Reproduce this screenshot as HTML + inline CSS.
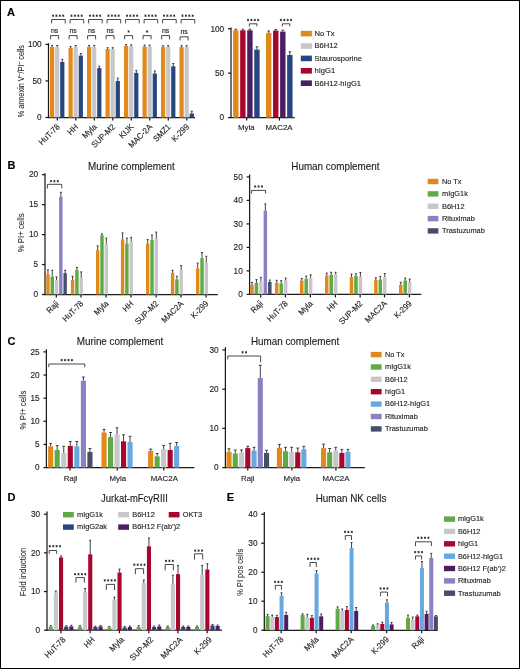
<!DOCTYPE html>
<html><head><meta charset="utf-8"><title>Figure</title>
<style>
html,body{margin:0;padding:0;background:#fff;}
body{width:520px;height:669px;overflow:hidden;}
svg{display:block;font-family:"Liberation Sans", sans-serif;will-change:transform;}

</style></head>
<body>
<svg width="520" height="669" viewBox="0 0 520 669" font-family='"Liberation Sans", sans-serif'>
<g>
<rect x="0" y="0" width="520" height="669" fill="#fff"/>
<text font-size="11" text-anchor="start" font-weight="bold" transform="translate(7 16.4)" fill="#000" stroke="#000" stroke-width="0.14">A</text>
<line x1="48.5" y1="43.2" x2="48.5" y2="118" stroke="#1a1a1a" stroke-width="1.25"/>
<line x1="45.5" y1="44.4" x2="48.5" y2="44.4" stroke="#1a1a1a" stroke-width="1.25"/>
<text font-size="9.0" text-anchor="end" transform="translate(41.7 47.15) scale(0.92 1)" fill="#1e1e1e" stroke="#1e1e1e" stroke-width="0.14">100</text>
<line x1="45.5" y1="80.95" x2="48.5" y2="80.95" stroke="#1a1a1a" stroke-width="1.25"/>
<text font-size="9.0" text-anchor="end" transform="translate(41.7 83.7) scale(0.92 1)" fill="#1e1e1e" stroke="#1e1e1e" stroke-width="0.14">50</text>
<line x1="45.5" y1="117.5" x2="48.5" y2="117.5" stroke="#1a1a1a" stroke-width="1.25"/>
<text font-size="9.0" text-anchor="end" transform="translate(41.7 120.25) scale(0.92 1)" fill="#1e1e1e" stroke="#1e1e1e" stroke-width="0.14">0</text>
<line x1="48" y1="117.5" x2="195" y2="117.5" stroke="#1a1a1a" stroke-width="1.25"/>
<rect x="50" y="46.9" width="4.2" height="70.6" fill="#E2891B"/>
<line x1="52.1" y1="46.9" x2="52.1" y2="45.5" stroke="#2b2b2b" stroke-width="0.9"/>
<line x1="51.1" y1="45.5" x2="53.1" y2="45.5" stroke="#2b2b2b" stroke-width="0.9"/>
<rect x="55.1" y="46.9" width="4.2" height="70.6" fill="#C7C6CB"/>
<line x1="57.2" y1="46.9" x2="57.2" y2="45.5" stroke="#2b2b2b" stroke-width="0.9"/>
<line x1="56.2" y1="45.5" x2="58.2" y2="45.5" stroke="#2b2b2b" stroke-width="0.9"/>
<rect x="60.2" y="61.9" width="4.2" height="55.6" fill="#27467F"/>
<line x1="62.3" y1="61.9" x2="62.3" y2="59.4" stroke="#2b2b2b" stroke-width="0.9"/>
<line x1="61.3" y1="59.4" x2="63.3" y2="59.4" stroke="#2b2b2b" stroke-width="0.9"/>
<line x1="57.3" y1="117.5" x2="57.3" y2="120.5" stroke="#1a1a1a" stroke-width="1.25"/>
<text font-size="8.4" text-anchor="end" transform="translate(60.2 127.4) rotate(-45) scale(0.93 1)" fill="#1e1e1e" stroke="#1e1e1e" stroke-width="0.14">HuT-78</text>
<polyline points="51.6,23.4 51.6,19.5 65.2,19.5 65.2,23.4" fill="none" stroke="#333" stroke-width="0.9"/>
<path d="M53 14.55L53 16.85M52 15.12L54 16.27M54 15.12L52 16.27M56.4 14.55L56.4 16.85M55.4 15.12L57.4 16.27M57.4 15.12L55.4 16.27M59.8 14.55L59.8 16.85M58.8 15.12L60.8 16.27M60.8 15.12L58.8 16.27M63.2 14.55L63.2 16.85M62.2 15.12L64.2 16.27M64.2 15.12L62.2 16.27" stroke="#222" stroke-width="0.8" fill="none"/>
<polyline points="50.6,39.3 50.6,35.6 58.6,35.6 58.6,39.3" fill="none" stroke="#333" stroke-width="0.9"/>
<text font-size="7.4" text-anchor="middle" transform="translate(54.6 33.2) scale(0.95 1)" fill="#1e1e1e" stroke="#1e1e1e" stroke-width="0.14">ns</text>
<rect x="68.5" y="48" width="4.2" height="69.5" fill="#E2891B"/>
<line x1="70.6" y1="48" x2="70.6" y2="46.6" stroke="#2b2b2b" stroke-width="0.9"/>
<line x1="69.6" y1="46.6" x2="71.6" y2="46.6" stroke="#2b2b2b" stroke-width="0.9"/>
<rect x="73.6" y="46.9" width="4.2" height="70.6" fill="#C7C6CB"/>
<line x1="75.7" y1="46.9" x2="75.7" y2="45.5" stroke="#2b2b2b" stroke-width="0.9"/>
<line x1="74.7" y1="45.5" x2="76.7" y2="45.5" stroke="#2b2b2b" stroke-width="0.9"/>
<rect x="78.7" y="55.6" width="4.2" height="61.9" fill="#27467F"/>
<line x1="80.8" y1="55.6" x2="80.8" y2="53.5" stroke="#2b2b2b" stroke-width="0.9"/>
<line x1="79.8" y1="53.5" x2="81.8" y2="53.5" stroke="#2b2b2b" stroke-width="0.9"/>
<line x1="75.8" y1="117.5" x2="75.8" y2="120.5" stroke="#1a1a1a" stroke-width="1.25"/>
<text font-size="8.4" text-anchor="end" transform="translate(78.7 127.4) rotate(-45) scale(0.93 1)" fill="#1e1e1e" stroke="#1e1e1e" stroke-width="0.14">HH</text>
<polyline points="70.1,23.4 70.1,19.5 83.7,19.5 83.7,23.4" fill="none" stroke="#333" stroke-width="0.9"/>
<path d="M71.5 14.55L71.5 16.85M70.5 15.12L72.5 16.27M72.5 15.12L70.5 16.27M74.9 14.55L74.9 16.85M73.9 15.12L75.9 16.27M75.9 15.12L73.9 16.27M78.3 14.55L78.3 16.85M77.3 15.12L79.3 16.27M79.3 15.12L77.3 16.27M81.7 14.55L81.7 16.85M80.7 15.12L82.7 16.27M82.7 15.12L80.7 16.27" stroke="#222" stroke-width="0.8" fill="none"/>
<polyline points="69.1,39.3 69.1,35.6 77.1,35.6 77.1,39.3" fill="none" stroke="#333" stroke-width="0.9"/>
<text font-size="7.4" text-anchor="middle" transform="translate(73.1 33.2) scale(0.95 1)" fill="#1e1e1e" stroke="#1e1e1e" stroke-width="0.14">ns</text>
<rect x="87" y="46.9" width="4.2" height="70.6" fill="#E2891B"/>
<line x1="89.1" y1="46.9" x2="89.1" y2="45.5" stroke="#2b2b2b" stroke-width="0.9"/>
<line x1="88.1" y1="45.5" x2="90.1" y2="45.5" stroke="#2b2b2b" stroke-width="0.9"/>
<rect x="92.1" y="46.9" width="4.2" height="70.6" fill="#C7C6CB"/>
<line x1="94.2" y1="46.9" x2="94.2" y2="45.5" stroke="#2b2b2b" stroke-width="0.9"/>
<line x1="93.2" y1="45.5" x2="95.2" y2="45.5" stroke="#2b2b2b" stroke-width="0.9"/>
<rect x="97.2" y="68.1" width="4.2" height="49.4" fill="#27467F"/>
<line x1="99.3" y1="68.1" x2="99.3" y2="66.2" stroke="#2b2b2b" stroke-width="0.9"/>
<line x1="98.3" y1="66.2" x2="100.3" y2="66.2" stroke="#2b2b2b" stroke-width="0.9"/>
<line x1="94.3" y1="117.5" x2="94.3" y2="120.5" stroke="#1a1a1a" stroke-width="1.25"/>
<text font-size="8.4" text-anchor="end" transform="translate(97.2 127.4) rotate(-45) scale(0.93 1)" fill="#1e1e1e" stroke="#1e1e1e" stroke-width="0.14">Myla</text>
<polyline points="88.6,23.4 88.6,19.5 102.2,19.5 102.2,23.4" fill="none" stroke="#333" stroke-width="0.9"/>
<path d="M90 14.55L90 16.85M89 15.12L91 16.27M91 15.12L89 16.27M93.4 14.55L93.4 16.85M92.4 15.12L94.4 16.27M94.4 15.12L92.4 16.27M96.8 14.55L96.8 16.85M95.8 15.12L97.8 16.27M97.8 15.12L95.8 16.27M100.2 14.55L100.2 16.85M99.2 15.12L101.2 16.27M101.2 15.12L99.2 16.27" stroke="#222" stroke-width="0.8" fill="none"/>
<polyline points="87.6,39.3 87.6,35.6 95.6,35.6 95.6,39.3" fill="none" stroke="#333" stroke-width="0.9"/>
<text font-size="7.4" text-anchor="middle" transform="translate(91.6 33.2) scale(0.95 1)" fill="#1e1e1e" stroke="#1e1e1e" stroke-width="0.14">ns</text>
<rect x="105.5" y="49.1" width="4.2" height="68.4" fill="#E2891B"/>
<line x1="107.6" y1="49.1" x2="107.6" y2="47.7" stroke="#2b2b2b" stroke-width="0.9"/>
<line x1="106.6" y1="47.7" x2="108.6" y2="47.7" stroke="#2b2b2b" stroke-width="0.9"/>
<rect x="110.6" y="49.1" width="4.2" height="68.4" fill="#C7C6CB"/>
<line x1="112.7" y1="49.1" x2="112.7" y2="47.7" stroke="#2b2b2b" stroke-width="0.9"/>
<line x1="111.7" y1="47.7" x2="113.7" y2="47.7" stroke="#2b2b2b" stroke-width="0.9"/>
<rect x="115.7" y="81" width="4.2" height="36.5" fill="#27467F"/>
<line x1="117.8" y1="81" x2="117.8" y2="78.1" stroke="#2b2b2b" stroke-width="0.9"/>
<line x1="116.8" y1="78.1" x2="118.8" y2="78.1" stroke="#2b2b2b" stroke-width="0.9"/>
<line x1="112.8" y1="117.5" x2="112.8" y2="120.5" stroke="#1a1a1a" stroke-width="1.25"/>
<text font-size="8.4" text-anchor="end" transform="translate(115.7 127.4) rotate(-45) scale(0.93 1)" fill="#1e1e1e" stroke="#1e1e1e" stroke-width="0.14">SUP-M2</text>
<polyline points="107.1,23.4 107.1,19.5 120.7,19.5 120.7,23.4" fill="none" stroke="#333" stroke-width="0.9"/>
<path d="M108.5 14.55L108.5 16.85M107.5 15.12L109.5 16.27M109.5 15.12L107.5 16.27M111.9 14.55L111.9 16.85M110.9 15.12L112.9 16.27M112.9 15.12L110.9 16.27M115.3 14.55L115.3 16.85M114.3 15.12L116.3 16.27M116.3 15.12L114.3 16.27M118.7 14.55L118.7 16.85M117.7 15.12L119.7 16.27M119.7 15.12L117.7 16.27" stroke="#222" stroke-width="0.8" fill="none"/>
<polyline points="106.1,39.3 106.1,35.6 114.1,35.6 114.1,39.3" fill="none" stroke="#333" stroke-width="0.9"/>
<text font-size="7.4" text-anchor="middle" transform="translate(110.1 33.2) scale(0.95 1)" fill="#1e1e1e" stroke="#1e1e1e" stroke-width="0.14">ns</text>
<rect x="124" y="46" width="4.2" height="71.5" fill="#E2891B"/>
<line x1="126.1" y1="46" x2="126.1" y2="44.6" stroke="#2b2b2b" stroke-width="0.9"/>
<line x1="125.1" y1="44.6" x2="127.1" y2="44.6" stroke="#2b2b2b" stroke-width="0.9"/>
<rect x="129.1" y="46.3" width="4.2" height="71.2" fill="#C7C6CB"/>
<line x1="131.2" y1="46.3" x2="131.2" y2="44.9" stroke="#2b2b2b" stroke-width="0.9"/>
<line x1="130.2" y1="44.9" x2="132.2" y2="44.9" stroke="#2b2b2b" stroke-width="0.9"/>
<rect x="134.2" y="72.9" width="4.2" height="44.6" fill="#27467F"/>
<line x1="136.3" y1="72.9" x2="136.3" y2="70.4" stroke="#2b2b2b" stroke-width="0.9"/>
<line x1="135.3" y1="70.4" x2="137.3" y2="70.4" stroke="#2b2b2b" stroke-width="0.9"/>
<line x1="131.3" y1="117.5" x2="131.3" y2="120.5" stroke="#1a1a1a" stroke-width="1.25"/>
<text font-size="8.4" text-anchor="end" transform="translate(134.2 127.4) rotate(-45) scale(0.93 1)" fill="#1e1e1e" stroke="#1e1e1e" stroke-width="0.14">KIJK</text>
<polyline points="125.6,23.4 125.6,19.5 139.2,19.5 139.2,23.4" fill="none" stroke="#333" stroke-width="0.9"/>
<path d="M127 14.55L127 16.85M126 15.12L128 16.27M128 15.12L126 16.27M130.4 14.55L130.4 16.85M129.4 15.12L131.4 16.27M131.4 15.12L129.4 16.27M133.8 14.55L133.8 16.85M132.8 15.12L134.8 16.27M134.8 15.12L132.8 16.27M137.2 14.55L137.2 16.85M136.2 15.12L138.2 16.27M138.2 15.12L136.2 16.27" stroke="#222" stroke-width="0.8" fill="none"/>
<polyline points="124.6,39.3 124.6,35.6 132.6,35.6 132.6,39.3" fill="none" stroke="#333" stroke-width="0.9"/>
<path d="M128.6 30.35L128.6 32.65M127.6 30.93L129.6 32.08M129.6 30.93L127.6 32.08" stroke="#222" stroke-width="0.8" fill="none"/>
<rect x="142.5" y="46.5" width="4.2" height="71" fill="#E2891B"/>
<line x1="144.6" y1="46.5" x2="144.6" y2="45.1" stroke="#2b2b2b" stroke-width="0.9"/>
<line x1="143.6" y1="45.1" x2="145.6" y2="45.1" stroke="#2b2b2b" stroke-width="0.9"/>
<rect x="147.6" y="46.5" width="4.2" height="71" fill="#C7C6CB"/>
<line x1="149.7" y1="46.5" x2="149.7" y2="45.1" stroke="#2b2b2b" stroke-width="0.9"/>
<line x1="148.7" y1="45.1" x2="150.7" y2="45.1" stroke="#2b2b2b" stroke-width="0.9"/>
<rect x="152.7" y="73.5" width="4.2" height="44" fill="#27467F"/>
<line x1="154.8" y1="73.5" x2="154.8" y2="71" stroke="#2b2b2b" stroke-width="0.9"/>
<line x1="153.8" y1="71" x2="155.8" y2="71" stroke="#2b2b2b" stroke-width="0.9"/>
<line x1="149.8" y1="117.5" x2="149.8" y2="120.5" stroke="#1a1a1a" stroke-width="1.25"/>
<text font-size="8.4" text-anchor="end" transform="translate(152.7 127.4) rotate(-45) scale(0.93 1)" fill="#1e1e1e" stroke="#1e1e1e" stroke-width="0.14">MAC-2A</text>
<polyline points="144.1,23.4 144.1,19.5 157.7,19.5 157.7,23.4" fill="none" stroke="#333" stroke-width="0.9"/>
<path d="M145.5 14.55L145.5 16.85M144.5 15.12L146.5 16.27M146.5 15.12L144.5 16.27M148.9 14.55L148.9 16.85M147.9 15.12L149.9 16.27M149.9 15.12L147.9 16.27M152.3 14.55L152.3 16.85M151.3 15.12L153.3 16.27M153.3 15.12L151.3 16.27M155.7 14.55L155.7 16.85M154.7 15.12L156.7 16.27M156.7 15.12L154.7 16.27" stroke="#222" stroke-width="0.8" fill="none"/>
<polyline points="143.1,39.3 143.1,35.6 151.1,35.6 151.1,39.3" fill="none" stroke="#333" stroke-width="0.9"/>
<path d="M147.1 30.35L147.1 32.65M146.1 30.93L148.1 32.08M148.1 30.93L146.1 32.08" stroke="#222" stroke-width="0.8" fill="none"/>
<rect x="161" y="47.1" width="4.2" height="70.4" fill="#E2891B"/>
<line x1="163.1" y1="47.1" x2="163.1" y2="45.7" stroke="#2b2b2b" stroke-width="0.9"/>
<line x1="162.1" y1="45.7" x2="164.1" y2="45.7" stroke="#2b2b2b" stroke-width="0.9"/>
<rect x="166.1" y="47.1" width="4.2" height="70.4" fill="#C7C6CB"/>
<line x1="168.2" y1="47.1" x2="168.2" y2="45.7" stroke="#2b2b2b" stroke-width="0.9"/>
<line x1="167.2" y1="45.7" x2="169.2" y2="45.7" stroke="#2b2b2b" stroke-width="0.9"/>
<rect x="171.2" y="66.3" width="4.2" height="51.2" fill="#27467F"/>
<line x1="173.3" y1="66.3" x2="173.3" y2="63.5" stroke="#2b2b2b" stroke-width="0.9"/>
<line x1="172.3" y1="63.5" x2="174.3" y2="63.5" stroke="#2b2b2b" stroke-width="0.9"/>
<line x1="168.3" y1="117.5" x2="168.3" y2="120.5" stroke="#1a1a1a" stroke-width="1.25"/>
<text font-size="8.4" text-anchor="end" transform="translate(171.2 127.4) rotate(-45) scale(0.93 1)" fill="#1e1e1e" stroke="#1e1e1e" stroke-width="0.14">SMZ1</text>
<polyline points="162.6,23.4 162.6,19.5 176.2,19.5 176.2,23.4" fill="none" stroke="#333" stroke-width="0.9"/>
<path d="M164 14.55L164 16.85M163 15.12L165 16.27M165 15.12L163 16.27M167.4 14.55L167.4 16.85M166.4 15.12L168.4 16.27M168.4 15.12L166.4 16.27M170.8 14.55L170.8 16.85M169.8 15.12L171.8 16.27M171.8 15.12L169.8 16.27M174.2 14.55L174.2 16.85M173.2 15.12L175.2 16.27M175.2 15.12L173.2 16.27" stroke="#222" stroke-width="0.8" fill="none"/>
<polyline points="161.6,39.3 161.6,35.6 169.6,35.6 169.6,39.3" fill="none" stroke="#333" stroke-width="0.9"/>
<text font-size="7.4" text-anchor="middle" transform="translate(165.6 33.2) scale(0.95 1)" fill="#1e1e1e" stroke="#1e1e1e" stroke-width="0.14">ns</text>
<rect x="179.5" y="47.1" width="4.2" height="70.4" fill="#E2891B"/>
<line x1="181.6" y1="47.1" x2="181.6" y2="45.7" stroke="#2b2b2b" stroke-width="0.9"/>
<line x1="180.6" y1="45.7" x2="182.6" y2="45.7" stroke="#2b2b2b" stroke-width="0.9"/>
<rect x="184.6" y="47.1" width="4.2" height="70.4" fill="#C7C6CB"/>
<line x1="186.7" y1="47.1" x2="186.7" y2="45.7" stroke="#2b2b2b" stroke-width="0.9"/>
<line x1="185.7" y1="45.7" x2="187.7" y2="45.7" stroke="#2b2b2b" stroke-width="0.9"/>
<rect x="189.7" y="113.5" width="4.2" height="4" fill="#27467F"/>
<line x1="191.8" y1="113.5" x2="191.8" y2="111.2" stroke="#2b2b2b" stroke-width="0.9"/>
<line x1="190.8" y1="111.2" x2="192.8" y2="111.2" stroke="#2b2b2b" stroke-width="0.9"/>
<line x1="186.8" y1="117.5" x2="186.8" y2="120.5" stroke="#1a1a1a" stroke-width="1.25"/>
<text font-size="8.4" text-anchor="end" transform="translate(189.7 127.4) rotate(-45) scale(0.93 1)" fill="#1e1e1e" stroke="#1e1e1e" stroke-width="0.14">K-299</text>
<polyline points="181.1,23.4 181.1,19.5 194.7,19.5 194.7,23.4" fill="none" stroke="#333" stroke-width="0.9"/>
<path d="M182.5 14.55L182.5 16.85M181.5 15.12L183.5 16.27M183.5 15.12L181.5 16.27M185.9 14.55L185.9 16.85M184.9 15.12L186.9 16.27M186.9 15.12L184.9 16.27M189.3 14.55L189.3 16.85M188.3 15.12L190.3 16.27M190.3 15.12L188.3 16.27M192.7 14.55L192.7 16.85M191.7 15.12L193.7 16.27M193.7 15.12L191.7 16.27" stroke="#222" stroke-width="0.8" fill="none"/>
<polyline points="180.1,40.5 180.1,36.8 188.1,36.8 188.1,40.5" fill="none" stroke="#333" stroke-width="0.9"/>
<text font-size="7.4" text-anchor="middle" transform="translate(184.1 34.4) scale(0.95 1)" fill="#1e1e1e" stroke="#1e1e1e" stroke-width="0.14">ns</text>
<text font-size="9.0" text-anchor="middle" transform="translate(23.8 81.2) rotate(-90) scale(0.81 1)" fill="#1e1e1e" stroke="#1e1e1e" stroke-width="0.06">% annexin V<tspan dy="-3" font-size="6.5">&#8211;</tspan><tspan dy="3">/PI</tspan><tspan dy="-3" font-size="6.5">&#8211;</tspan><tspan dy="3"> cells</tspan></text>
<line x1="231" y1="27.6" x2="231" y2="118.1" stroke="#1a1a1a" stroke-width="1.25"/>
<line x1="228" y1="28.75" x2="231" y2="28.75" stroke="#1a1a1a" stroke-width="1.25"/>
<text font-size="9.0" text-anchor="end" transform="translate(224.2 31.5) scale(0.92 1)" fill="#1e1e1e" stroke="#1e1e1e" stroke-width="0.14">100</text>
<line x1="228" y1="73.17" x2="231" y2="73.17" stroke="#1a1a1a" stroke-width="1.25"/>
<text font-size="9.0" text-anchor="end" transform="translate(224.2 75.92) scale(0.92 1)" fill="#1e1e1e" stroke="#1e1e1e" stroke-width="0.14">50</text>
<line x1="228" y1="117.6" x2="231" y2="117.6" stroke="#1a1a1a" stroke-width="1.25"/>
<text font-size="9.0" text-anchor="end" transform="translate(224.2 120.35) scale(0.92 1)" fill="#1e1e1e" stroke="#1e1e1e" stroke-width="0.14">0</text>
<line x1="230.5" y1="117.6" x2="294.6" y2="117.6" stroke="#1a1a1a" stroke-width="1.25"/>
<rect x="233.1" y="30.3" width="5.4" height="87.3" fill="#E2891B"/>
<line x1="235.8" y1="30.3" x2="235.8" y2="29.2" stroke="#2b2b2b" stroke-width="0.9"/>
<line x1="234.5" y1="29.2" x2="237.1" y2="29.2" stroke="#2b2b2b" stroke-width="0.9"/>
<rect x="240.15" y="30.3" width="5.4" height="87.3" fill="#A8062F"/>
<line x1="242.85" y1="30.3" x2="242.85" y2="29.2" stroke="#2b2b2b" stroke-width="0.9"/>
<line x1="241.55" y1="29.2" x2="244.15" y2="29.2" stroke="#2b2b2b" stroke-width="0.9"/>
<rect x="247.2" y="30.3" width="5.4" height="87.3" fill="#4D1D63"/>
<line x1="249.9" y1="30.3" x2="249.9" y2="29.2" stroke="#2b2b2b" stroke-width="0.9"/>
<line x1="248.6" y1="29.2" x2="251.2" y2="29.2" stroke="#2b2b2b" stroke-width="0.9"/>
<rect x="254.25" y="49.6" width="5.4" height="68" fill="#27467F"/>
<line x1="256.95" y1="49.6" x2="256.95" y2="46.8" stroke="#2b2b2b" stroke-width="0.9"/>
<line x1="255.65" y1="46.8" x2="258.25" y2="46.8" stroke="#2b2b2b" stroke-width="0.9"/>
<line x1="246.7" y1="117.6" x2="246.7" y2="120.6" stroke="#1a1a1a" stroke-width="1.25"/>
<text font-size="8.1" text-anchor="middle" transform="translate(246.3 130.4) scale(0.97 1)" fill="#1e1e1e" stroke="#1e1e1e" stroke-width="0.14">Myla</text>
<polyline points="249.4,26.4 249.4,23.8 256.9,23.8 256.9,26.4" fill="none" stroke="#333" stroke-width="0.9"/>
<path d="M248 18.85L248 21.15M247 19.43L249 20.57M249 19.43L247 20.57M251.4 18.85L251.4 21.15M250.4 19.43L252.4 20.57M252.4 19.43L250.4 20.57M254.8 18.85L254.8 21.15M253.8 19.43L255.8 20.57M255.8 19.43L253.8 20.57M258.2 18.85L258.2 21.15M257.2 19.43L259.2 20.57M259.2 19.43L257.2 20.57" stroke="#222" stroke-width="0.8" fill="none"/>
<rect x="266" y="32.9" width="5.4" height="84.7" fill="#E2891B"/>
<line x1="268.7" y1="32.9" x2="268.7" y2="31" stroke="#2b2b2b" stroke-width="0.9"/>
<line x1="267.4" y1="31" x2="270" y2="31" stroke="#2b2b2b" stroke-width="0.9"/>
<rect x="273.05" y="30.6" width="5.4" height="87" fill="#A8062F"/>
<line x1="275.75" y1="30.6" x2="275.75" y2="29.6" stroke="#2b2b2b" stroke-width="0.9"/>
<line x1="274.45" y1="29.6" x2="277.05" y2="29.6" stroke="#2b2b2b" stroke-width="0.9"/>
<rect x="280.1" y="31.6" width="5.4" height="86" fill="#4D1D63"/>
<line x1="282.8" y1="31.6" x2="282.8" y2="30.2" stroke="#2b2b2b" stroke-width="0.9"/>
<line x1="281.5" y1="30.2" x2="284.1" y2="30.2" stroke="#2b2b2b" stroke-width="0.9"/>
<rect x="287.15" y="55" width="5.4" height="62.6" fill="#27467F"/>
<line x1="289.85" y1="55" x2="289.85" y2="51.8" stroke="#2b2b2b" stroke-width="0.9"/>
<line x1="288.55" y1="51.8" x2="291.15" y2="51.8" stroke="#2b2b2b" stroke-width="0.9"/>
<line x1="279.4" y1="117.6" x2="279.4" y2="120.6" stroke="#1a1a1a" stroke-width="1.25"/>
<text font-size="8.1" text-anchor="middle" transform="translate(279 130.4) scale(0.97 1)" fill="#1e1e1e" stroke="#1e1e1e" stroke-width="0.14">MAC2A</text>
<polyline points="282.3,26.4 282.3,23.8 289.8,23.8 289.8,26.4" fill="none" stroke="#333" stroke-width="0.9"/>
<path d="M280.9 18.85L280.9 21.15M279.9 19.43L281.9 20.57M281.9 19.43L279.9 20.57M284.3 18.85L284.3 21.15M283.3 19.43L285.3 20.57M285.3 19.43L283.3 20.57M287.7 18.85L287.7 21.15M286.7 19.43L288.7 20.57M288.7 19.43L286.7 20.57M291.1 18.85L291.1 21.15M290.1 19.43L292.1 20.57M292.1 19.43L290.1 20.57" stroke="#222" stroke-width="0.8" fill="none"/>
<rect x="300.8" y="30.8" width="11.1" height="5.6" fill="#E2891B"/>
<text font-size="8.1" text-anchor="start" transform="translate(314.5 35.9) scale(0.94 1)" fill="#1e1e1e" stroke="#1e1e1e" stroke-width="0.14">No Tx</text>
<rect x="300.8" y="43.2" width="11.1" height="5.6" fill="#C7C6CB"/>
<text font-size="8.1" text-anchor="start" transform="translate(314.5 48.3) scale(0.94 1)" fill="#1e1e1e" stroke="#1e1e1e" stroke-width="0.14">B6H12</text>
<rect x="300.8" y="55.6" width="11.1" height="5.6" fill="#27467F"/>
<text font-size="8.1" text-anchor="start" transform="translate(314.5 60.7) scale(0.94 1)" fill="#1e1e1e" stroke="#1e1e1e" stroke-width="0.14">Staurosporine</text>
<rect x="300.8" y="68" width="11.1" height="5.6" fill="#A8062F"/>
<text font-size="8.1" text-anchor="start" transform="translate(314.5 73.1) scale(0.94 1)" fill="#1e1e1e" stroke="#1e1e1e" stroke-width="0.14">hIgG1</text>
<rect x="300.8" y="80.4" width="11.1" height="5.6" fill="#4D1D63"/>
<text font-size="8.1" text-anchor="start" transform="translate(314.5 85.5) scale(0.94 1)" fill="#1e1e1e" stroke="#1e1e1e" stroke-width="0.14">B6H12-hIgG1</text>
<text font-size="11" text-anchor="start" font-weight="bold" transform="translate(7.6 169)" fill="#000" stroke="#000" stroke-width="0.14">B</text>
<line x1="45" y1="173.3" x2="45" y2="295" stroke="#1a1a1a" stroke-width="1.25"/>
<line x1="42" y1="294.5" x2="45" y2="294.5" stroke="#1a1a1a" stroke-width="1.25"/>
<text font-size="9.0" text-anchor="end" transform="translate(38.2 297.25) scale(0.92 1)" fill="#1e1e1e" stroke="#1e1e1e" stroke-width="0.14">0</text>
<line x1="42" y1="264.55" x2="45" y2="264.55" stroke="#1a1a1a" stroke-width="1.25"/>
<text font-size="9.0" text-anchor="end" transform="translate(38.2 267.3) scale(0.92 1)" fill="#1e1e1e" stroke="#1e1e1e" stroke-width="0.14">5</text>
<line x1="42" y1="234.6" x2="45" y2="234.6" stroke="#1a1a1a" stroke-width="1.25"/>
<text font-size="9.0" text-anchor="end" transform="translate(38.2 237.35) scale(0.92 1)" fill="#1e1e1e" stroke="#1e1e1e" stroke-width="0.14">10</text>
<line x1="42" y1="204.65" x2="45" y2="204.65" stroke="#1a1a1a" stroke-width="1.25"/>
<text font-size="9.0" text-anchor="end" transform="translate(38.2 207.4) scale(0.92 1)" fill="#1e1e1e" stroke="#1e1e1e" stroke-width="0.14">15</text>
<line x1="42" y1="174.7" x2="45" y2="174.7" stroke="#1a1a1a" stroke-width="1.25"/>
<text font-size="9.0" text-anchor="end" transform="translate(38.2 177.45) scale(0.92 1)" fill="#1e1e1e" stroke="#1e1e1e" stroke-width="0.14">20</text>
<line x1="44.5" y1="294.5" x2="217.8" y2="294.5" stroke="#1a1a1a" stroke-width="1.25"/>
<text font-size="10.4" text-anchor="middle" transform="translate(131.4 170.4) scale(0.95 1)" fill="#1e1e1e" stroke="#1e1e1e" stroke-width="0.14">Murine complement</text>
<text font-size="9.0" text-anchor="middle" transform="translate(23.9 232.9) rotate(-90) scale(0.87 1)" fill="#1e1e1e" stroke="#1e1e1e" stroke-width="0.06">% PI+ cells</text>
<rect x="46.25" y="274.1" width="3.4" height="20.4" fill="#E2891B"/>
<line x1="47.95" y1="274.1" x2="47.95" y2="269.8" stroke="#2b2b2b" stroke-width="0.9"/>
<line x1="46.95" y1="269.8" x2="48.95" y2="269.8" stroke="#2b2b2b" stroke-width="0.9"/>
<rect x="50.55" y="276.6" width="3.4" height="17.9" fill="#5EAA44"/>
<line x1="52.25" y1="276.6" x2="52.25" y2="270.3" stroke="#2b2b2b" stroke-width="0.9"/>
<line x1="51.25" y1="270.3" x2="53.25" y2="270.3" stroke="#2b2b2b" stroke-width="0.9"/>
<rect x="54.85" y="280" width="3.4" height="14.5" fill="#C7C6CB"/>
<line x1="56.55" y1="280" x2="56.55" y2="276.9" stroke="#2b2b2b" stroke-width="0.9"/>
<line x1="55.55" y1="276.9" x2="57.55" y2="276.9" stroke="#2b2b2b" stroke-width="0.9"/>
<rect x="59.15" y="196.9" width="3.4" height="97.6" fill="#8B80C1"/>
<line x1="60.85" y1="196.9" x2="60.85" y2="192.3" stroke="#2b2b2b" stroke-width="0.9"/>
<line x1="59.85" y1="192.3" x2="61.85" y2="192.3" stroke="#2b2b2b" stroke-width="0.9"/>
<rect x="63.45" y="273.1" width="3.4" height="21.4" fill="#474F66"/>
<line x1="65.15" y1="273.1" x2="65.15" y2="270.3" stroke="#2b2b2b" stroke-width="0.9"/>
<line x1="64.15" y1="270.3" x2="66.15" y2="270.3" stroke="#2b2b2b" stroke-width="0.9"/>
<line x1="56.35" y1="294.5" x2="56.35" y2="297.5" stroke="#1a1a1a" stroke-width="1.25"/>
<text font-size="8.4" text-anchor="end" transform="translate(59.25 304.2) rotate(-45) scale(0.93 1)" fill="#1e1e1e" stroke="#1e1e1e" stroke-width="0.14">Raji</text>
<rect x="70.9" y="280" width="3.4" height="14.5" fill="#E2891B"/>
<line x1="72.6" y1="280" x2="72.6" y2="276.3" stroke="#2b2b2b" stroke-width="0.9"/>
<line x1="71.6" y1="276.3" x2="73.6" y2="276.3" stroke="#2b2b2b" stroke-width="0.9"/>
<rect x="75.2" y="270" width="3.4" height="24.5" fill="#5EAA44"/>
<line x1="76.9" y1="270" x2="76.9" y2="267.5" stroke="#2b2b2b" stroke-width="0.9"/>
<line x1="75.9" y1="267.5" x2="77.9" y2="267.5" stroke="#2b2b2b" stroke-width="0.9"/>
<rect x="79.5" y="277.8" width="3.4" height="16.7" fill="#C7C6CB"/>
<line x1="81.2" y1="277.8" x2="81.2" y2="271.9" stroke="#2b2b2b" stroke-width="0.9"/>
<line x1="80.2" y1="271.9" x2="82.2" y2="271.9" stroke="#2b2b2b" stroke-width="0.9"/>
<line x1="81" y1="294.5" x2="81" y2="297.5" stroke="#1a1a1a" stroke-width="1.25"/>
<text font-size="8.4" text-anchor="end" transform="translate(83.9 304.2) rotate(-45) scale(0.93 1)" fill="#1e1e1e" stroke="#1e1e1e" stroke-width="0.14">HuT-78</text>
<rect x="96" y="250.2" width="3.4" height="44.3" fill="#E2891B"/>
<line x1="97.7" y1="250.2" x2="97.7" y2="245.8" stroke="#2b2b2b" stroke-width="0.9"/>
<line x1="96.7" y1="245.8" x2="98.7" y2="245.8" stroke="#2b2b2b" stroke-width="0.9"/>
<rect x="100.3" y="235.3" width="3.4" height="59.2" fill="#5EAA44"/>
<line x1="102" y1="235.3" x2="102" y2="233.9" stroke="#2b2b2b" stroke-width="0.9"/>
<line x1="101" y1="233.9" x2="103" y2="233.9" stroke="#2b2b2b" stroke-width="0.9"/>
<rect x="104.6" y="243.8" width="3.4" height="50.7" fill="#C7C6CB"/>
<line x1="106.3" y1="243.8" x2="106.3" y2="238.1" stroke="#2b2b2b" stroke-width="0.9"/>
<line x1="105.3" y1="238.1" x2="107.3" y2="238.1" stroke="#2b2b2b" stroke-width="0.9"/>
<line x1="106.1" y1="294.5" x2="106.1" y2="297.5" stroke="#1a1a1a" stroke-width="1.25"/>
<text font-size="8.4" text-anchor="end" transform="translate(109 304.2) rotate(-45) scale(0.93 1)" fill="#1e1e1e" stroke="#1e1e1e" stroke-width="0.14">Myla</text>
<rect x="120.9" y="239.4" width="3.4" height="55.1" fill="#E2891B"/>
<line x1="122.6" y1="239.4" x2="122.6" y2="232.9" stroke="#2b2b2b" stroke-width="0.9"/>
<line x1="121.6" y1="232.9" x2="123.6" y2="232.9" stroke="#2b2b2b" stroke-width="0.9"/>
<rect x="125.2" y="243.5" width="3.4" height="51" fill="#5EAA44"/>
<line x1="126.9" y1="243.5" x2="126.9" y2="238.1" stroke="#2b2b2b" stroke-width="0.9"/>
<line x1="125.9" y1="238.1" x2="127.9" y2="238.1" stroke="#2b2b2b" stroke-width="0.9"/>
<rect x="129.5" y="241.3" width="3.4" height="53.2" fill="#C7C6CB"/>
<line x1="131.2" y1="241.3" x2="131.2" y2="237.3" stroke="#2b2b2b" stroke-width="0.9"/>
<line x1="130.2" y1="237.3" x2="132.2" y2="237.3" stroke="#2b2b2b" stroke-width="0.9"/>
<line x1="131" y1="294.5" x2="131" y2="297.5" stroke="#1a1a1a" stroke-width="1.25"/>
<text font-size="8.4" text-anchor="end" transform="translate(133.9 304.2) rotate(-45) scale(0.93 1)" fill="#1e1e1e" stroke="#1e1e1e" stroke-width="0.14">HH</text>
<rect x="146" y="243.5" width="3.4" height="51" fill="#E2891B"/>
<line x1="147.7" y1="243.5" x2="147.7" y2="239.6" stroke="#2b2b2b" stroke-width="0.9"/>
<line x1="146.7" y1="239.6" x2="148.7" y2="239.6" stroke="#2b2b2b" stroke-width="0.9"/>
<rect x="150.3" y="240" width="3.4" height="54.5" fill="#5EAA44"/>
<line x1="152" y1="240" x2="152" y2="235" stroke="#2b2b2b" stroke-width="0.9"/>
<line x1="151" y1="235" x2="153" y2="235" stroke="#2b2b2b" stroke-width="0.9"/>
<rect x="154.6" y="238.5" width="3.4" height="56" fill="#C7C6CB"/>
<line x1="156.3" y1="238.5" x2="156.3" y2="232.1" stroke="#2b2b2b" stroke-width="0.9"/>
<line x1="155.3" y1="232.1" x2="157.3" y2="232.1" stroke="#2b2b2b" stroke-width="0.9"/>
<line x1="156.1" y1="294.5" x2="156.1" y2="297.5" stroke="#1a1a1a" stroke-width="1.25"/>
<text font-size="8.4" text-anchor="end" transform="translate(159 304.2) rotate(-45) scale(0.93 1)" fill="#1e1e1e" stroke="#1e1e1e" stroke-width="0.14">SUP-M2</text>
<rect x="170.9" y="272.8" width="3.4" height="21.7" fill="#E2891B"/>
<line x1="172.6" y1="272.8" x2="172.6" y2="270.3" stroke="#2b2b2b" stroke-width="0.9"/>
<line x1="171.6" y1="270.3" x2="173.6" y2="270.3" stroke="#2b2b2b" stroke-width="0.9"/>
<rect x="175.2" y="279.4" width="3.4" height="15.1" fill="#5EAA44"/>
<line x1="176.9" y1="279.4" x2="176.9" y2="276.3" stroke="#2b2b2b" stroke-width="0.9"/>
<line x1="175.9" y1="276.3" x2="177.9" y2="276.3" stroke="#2b2b2b" stroke-width="0.9"/>
<rect x="179.5" y="270" width="3.4" height="24.5" fill="#C7C6CB"/>
<line x1="181.2" y1="270" x2="181.2" y2="265.6" stroke="#2b2b2b" stroke-width="0.9"/>
<line x1="180.2" y1="265.6" x2="182.2" y2="265.6" stroke="#2b2b2b" stroke-width="0.9"/>
<line x1="181" y1="294.5" x2="181" y2="297.5" stroke="#1a1a1a" stroke-width="1.25"/>
<text font-size="8.4" text-anchor="end" transform="translate(183.9 304.2) rotate(-45) scale(0.93 1)" fill="#1e1e1e" stroke="#1e1e1e" stroke-width="0.14">MAC2A</text>
<rect x="196" y="268.4" width="3.4" height="26.1" fill="#E2891B"/>
<line x1="197.7" y1="268.4" x2="197.7" y2="263.1" stroke="#2b2b2b" stroke-width="0.9"/>
<line x1="196.7" y1="263.1" x2="198.7" y2="263.1" stroke="#2b2b2b" stroke-width="0.9"/>
<rect x="200.3" y="258.1" width="3.4" height="36.4" fill="#5EAA44"/>
<line x1="202" y1="258.1" x2="202" y2="252.5" stroke="#2b2b2b" stroke-width="0.9"/>
<line x1="201" y1="252.5" x2="203" y2="252.5" stroke="#2b2b2b" stroke-width="0.9"/>
<rect x="204.6" y="262.5" width="3.4" height="32" fill="#C7C6CB"/>
<line x1="206.3" y1="262.5" x2="206.3" y2="256.3" stroke="#2b2b2b" stroke-width="0.9"/>
<line x1="205.3" y1="256.3" x2="207.3" y2="256.3" stroke="#2b2b2b" stroke-width="0.9"/>
<line x1="206.1" y1="294.5" x2="206.1" y2="297.5" stroke="#1a1a1a" stroke-width="1.25"/>
<text font-size="8.4" text-anchor="end" transform="translate(209 304.2) rotate(-45) scale(0.93 1)" fill="#1e1e1e" stroke="#1e1e1e" stroke-width="0.14">K-299</text>
<polyline points="47.4,188.5 47.4,184.3 61.8,184.3 61.8,188.5" fill="none" stroke="#333" stroke-width="0.9"/>
<path d="M51 180.05L51 182.35M50 180.62L52 181.77M52 180.62L50 181.77M54.4 180.05L54.4 182.35M53.4 180.62L55.4 181.77M55.4 180.62L53.4 181.77M57.8 180.05L57.8 182.35M56.8 180.62L58.8 181.77M58.8 180.62L56.8 181.77" stroke="#222" stroke-width="0.8" fill="none"/>
<line x1="249.6" y1="174.4" x2="249.6" y2="294.9" stroke="#1a1a1a" stroke-width="1.25"/>
<line x1="246.6" y1="294.4" x2="249.6" y2="294.4" stroke="#1a1a1a" stroke-width="1.25"/>
<text font-size="9.0" text-anchor="end" transform="translate(242.8 297.15) scale(0.92 1)" fill="#1e1e1e" stroke="#1e1e1e" stroke-width="0.14">0</text>
<line x1="246.6" y1="270.9" x2="249.6" y2="270.9" stroke="#1a1a1a" stroke-width="1.25"/>
<text font-size="9.0" text-anchor="end" transform="translate(242.8 273.65) scale(0.92 1)" fill="#1e1e1e" stroke="#1e1e1e" stroke-width="0.14">10</text>
<line x1="246.6" y1="247.4" x2="249.6" y2="247.4" stroke="#1a1a1a" stroke-width="1.25"/>
<text font-size="9.0" text-anchor="end" transform="translate(242.8 250.15) scale(0.92 1)" fill="#1e1e1e" stroke="#1e1e1e" stroke-width="0.14">20</text>
<line x1="246.6" y1="223.9" x2="249.6" y2="223.9" stroke="#1a1a1a" stroke-width="1.25"/>
<text font-size="9.0" text-anchor="end" transform="translate(242.8 226.65) scale(0.92 1)" fill="#1e1e1e" stroke="#1e1e1e" stroke-width="0.14">30</text>
<line x1="246.6" y1="200.4" x2="249.6" y2="200.4" stroke="#1a1a1a" stroke-width="1.25"/>
<text font-size="9.0" text-anchor="end" transform="translate(242.8 203.15) scale(0.92 1)" fill="#1e1e1e" stroke="#1e1e1e" stroke-width="0.14">40</text>
<line x1="246.6" y1="176.9" x2="249.6" y2="176.9" stroke="#1a1a1a" stroke-width="1.25"/>
<text font-size="9.0" text-anchor="end" transform="translate(242.8 179.65) scale(0.92 1)" fill="#1e1e1e" stroke="#1e1e1e" stroke-width="0.14">50</text>
<line x1="249.1" y1="294.4" x2="421.2" y2="294.4" stroke="#1a1a1a" stroke-width="1.25"/>
<text font-size="10.4" text-anchor="middle" transform="translate(335.4 170.2) scale(0.95 1)" fill="#1e1e1e" stroke="#1e1e1e" stroke-width="0.14">Human complement</text>
<rect x="250.25" y="285" width="3.5" height="9.4" fill="#E2891B"/>
<line x1="252" y1="285" x2="252" y2="282.5" stroke="#2b2b2b" stroke-width="0.9"/>
<line x1="251" y1="282.5" x2="253" y2="282.5" stroke="#2b2b2b" stroke-width="0.9"/>
<rect x="254.7" y="282.9" width="3.5" height="11.5" fill="#5EAA44"/>
<line x1="256.45" y1="282.9" x2="256.45" y2="279.6" stroke="#2b2b2b" stroke-width="0.9"/>
<line x1="255.45" y1="279.6" x2="257.45" y2="279.6" stroke="#2b2b2b" stroke-width="0.9"/>
<rect x="259.15" y="281.3" width="3.5" height="13.1" fill="#C7C6CB"/>
<line x1="260.9" y1="281.3" x2="260.9" y2="277.3" stroke="#2b2b2b" stroke-width="0.9"/>
<line x1="259.9" y1="277.3" x2="261.9" y2="277.3" stroke="#2b2b2b" stroke-width="0.9"/>
<rect x="263.6" y="210.6" width="3.5" height="83.8" fill="#8B80C1"/>
<line x1="265.35" y1="210.6" x2="265.35" y2="203.8" stroke="#2b2b2b" stroke-width="0.9"/>
<line x1="264.35" y1="203.8" x2="266.35" y2="203.8" stroke="#2b2b2b" stroke-width="0.9"/>
<rect x="268.05" y="281.9" width="3.5" height="12.5" fill="#474F66"/>
<line x1="269.8" y1="281.9" x2="269.8" y2="280" stroke="#2b2b2b" stroke-width="0.9"/>
<line x1="268.8" y1="280" x2="270.8" y2="280" stroke="#2b2b2b" stroke-width="0.9"/>
<line x1="260.65" y1="294.4" x2="260.65" y2="297.4" stroke="#1a1a1a" stroke-width="1.25"/>
<text font-size="8.4" text-anchor="end" transform="translate(263.55 304.1) rotate(-45) scale(0.93 1)" fill="#1e1e1e" stroke="#1e1e1e" stroke-width="0.14">Raji</text>
<rect x="275" y="282.9" width="3.5" height="11.5" fill="#E2891B"/>
<line x1="276.75" y1="282.9" x2="276.75" y2="280.3" stroke="#2b2b2b" stroke-width="0.9"/>
<line x1="275.75" y1="280.3" x2="277.75" y2="280.3" stroke="#2b2b2b" stroke-width="0.9"/>
<rect x="279.45" y="283.5" width="3.5" height="10.9" fill="#5EAA44"/>
<line x1="281.2" y1="283.5" x2="281.2" y2="280.6" stroke="#2b2b2b" stroke-width="0.9"/>
<line x1="280.2" y1="280.6" x2="282.2" y2="280.6" stroke="#2b2b2b" stroke-width="0.9"/>
<rect x="283.9" y="280.4" width="3.5" height="14" fill="#C7C6CB"/>
<line x1="285.65" y1="280.4" x2="285.65" y2="278.1" stroke="#2b2b2b" stroke-width="0.9"/>
<line x1="284.65" y1="278.1" x2="286.65" y2="278.1" stroke="#2b2b2b" stroke-width="0.9"/>
<line x1="285.4" y1="294.4" x2="285.4" y2="297.4" stroke="#1a1a1a" stroke-width="1.25"/>
<text font-size="8.4" text-anchor="end" transform="translate(288.3 304.1) rotate(-45) scale(0.93 1)" fill="#1e1e1e" stroke="#1e1e1e" stroke-width="0.14">HuT-78</text>
<rect x="300" y="280.6" width="3.5" height="13.8" fill="#E2891B"/>
<line x1="301.75" y1="280.6" x2="301.75" y2="278.5" stroke="#2b2b2b" stroke-width="0.9"/>
<line x1="300.75" y1="278.5" x2="302.75" y2="278.5" stroke="#2b2b2b" stroke-width="0.9"/>
<rect x="304.45" y="278.9" width="3.5" height="15.5" fill="#5EAA44"/>
<line x1="306.2" y1="278.9" x2="306.2" y2="276.1" stroke="#2b2b2b" stroke-width="0.9"/>
<line x1="305.2" y1="276.1" x2="307.2" y2="276.1" stroke="#2b2b2b" stroke-width="0.9"/>
<rect x="308.9" y="277.8" width="3.5" height="16.6" fill="#C7C6CB"/>
<line x1="310.65" y1="277.8" x2="310.65" y2="274.8" stroke="#2b2b2b" stroke-width="0.9"/>
<line x1="309.65" y1="274.8" x2="311.65" y2="274.8" stroke="#2b2b2b" stroke-width="0.9"/>
<line x1="310.4" y1="294.4" x2="310.4" y2="297.4" stroke="#1a1a1a" stroke-width="1.25"/>
<text font-size="8.4" text-anchor="end" transform="translate(313.3 304.1) rotate(-45) scale(0.93 1)" fill="#1e1e1e" stroke="#1e1e1e" stroke-width="0.14">Myla</text>
<rect x="325" y="275.4" width="3.5" height="19" fill="#E2891B"/>
<line x1="326.75" y1="275.4" x2="326.75" y2="273.1" stroke="#2b2b2b" stroke-width="0.9"/>
<line x1="325.75" y1="273.1" x2="327.75" y2="273.1" stroke="#2b2b2b" stroke-width="0.9"/>
<rect x="329.45" y="275" width="3.5" height="19.4" fill="#5EAA44"/>
<line x1="331.2" y1="275" x2="331.2" y2="272.3" stroke="#2b2b2b" stroke-width="0.9"/>
<line x1="330.2" y1="272.3" x2="332.2" y2="272.3" stroke="#2b2b2b" stroke-width="0.9"/>
<rect x="333.9" y="274.1" width="3.5" height="20.3" fill="#C7C6CB"/>
<line x1="335.65" y1="274.1" x2="335.65" y2="272.3" stroke="#2b2b2b" stroke-width="0.9"/>
<line x1="334.65" y1="272.3" x2="336.65" y2="272.3" stroke="#2b2b2b" stroke-width="0.9"/>
<line x1="335.4" y1="294.4" x2="335.4" y2="297.4" stroke="#1a1a1a" stroke-width="1.25"/>
<text font-size="8.4" text-anchor="end" transform="translate(338.3 304.1) rotate(-45) scale(0.93 1)" fill="#1e1e1e" stroke="#1e1e1e" stroke-width="0.14">HH</text>
<rect x="349.75" y="276.9" width="3.5" height="17.5" fill="#E2891B"/>
<line x1="351.5" y1="276.9" x2="351.5" y2="274.1" stroke="#2b2b2b" stroke-width="0.9"/>
<line x1="350.5" y1="274.1" x2="352.5" y2="274.1" stroke="#2b2b2b" stroke-width="0.9"/>
<rect x="354.2" y="276" width="3.5" height="18.4" fill="#5EAA44"/>
<line x1="355.95" y1="276" x2="355.95" y2="273.8" stroke="#2b2b2b" stroke-width="0.9"/>
<line x1="354.95" y1="273.8" x2="356.95" y2="273.8" stroke="#2b2b2b" stroke-width="0.9"/>
<rect x="358.65" y="276.6" width="3.5" height="17.8" fill="#C7C6CB"/>
<line x1="360.4" y1="276.6" x2="360.4" y2="272.5" stroke="#2b2b2b" stroke-width="0.9"/>
<line x1="359.4" y1="272.5" x2="361.4" y2="272.5" stroke="#2b2b2b" stroke-width="0.9"/>
<line x1="360.15" y1="294.4" x2="360.15" y2="297.4" stroke="#1a1a1a" stroke-width="1.25"/>
<text font-size="8.4" text-anchor="end" transform="translate(363.05 304.1) rotate(-45) scale(0.93 1)" fill="#1e1e1e" stroke="#1e1e1e" stroke-width="0.14">SUP-M2</text>
<rect x="374.1" y="280" width="3.5" height="14.4" fill="#E2891B"/>
<line x1="375.85" y1="280" x2="375.85" y2="277.8" stroke="#2b2b2b" stroke-width="0.9"/>
<line x1="374.85" y1="277.8" x2="376.85" y2="277.8" stroke="#2b2b2b" stroke-width="0.9"/>
<rect x="378.55" y="279.6" width="3.5" height="14.8" fill="#5EAA44"/>
<line x1="380.3" y1="279.6" x2="380.3" y2="276.3" stroke="#2b2b2b" stroke-width="0.9"/>
<line x1="379.3" y1="276.3" x2="381.3" y2="276.3" stroke="#2b2b2b" stroke-width="0.9"/>
<rect x="383" y="276.9" width="3.5" height="17.5" fill="#C7C6CB"/>
<line x1="384.75" y1="276.9" x2="384.75" y2="273.5" stroke="#2b2b2b" stroke-width="0.9"/>
<line x1="383.75" y1="273.5" x2="385.75" y2="273.5" stroke="#2b2b2b" stroke-width="0.9"/>
<line x1="384.5" y1="294.4" x2="384.5" y2="297.4" stroke="#1a1a1a" stroke-width="1.25"/>
<text font-size="8.4" text-anchor="end" transform="translate(387.4 304.1) rotate(-45) scale(0.93 1)" fill="#1e1e1e" stroke="#1e1e1e" stroke-width="0.14">MAC2A</text>
<rect x="399" y="284.8" width="3.5" height="9.6" fill="#E2891B"/>
<line x1="400.75" y1="284.8" x2="400.75" y2="282.3" stroke="#2b2b2b" stroke-width="0.9"/>
<line x1="399.75" y1="282.3" x2="401.75" y2="282.3" stroke="#2b2b2b" stroke-width="0.9"/>
<rect x="403.45" y="280.6" width="3.5" height="13.8" fill="#5EAA44"/>
<line x1="405.2" y1="280.6" x2="405.2" y2="278.1" stroke="#2b2b2b" stroke-width="0.9"/>
<line x1="404.2" y1="278.1" x2="406.2" y2="278.1" stroke="#2b2b2b" stroke-width="0.9"/>
<rect x="407.9" y="282.5" width="3.5" height="11.9" fill="#C7C6CB"/>
<line x1="409.65" y1="282.5" x2="409.65" y2="279" stroke="#2b2b2b" stroke-width="0.9"/>
<line x1="408.65" y1="279" x2="410.65" y2="279" stroke="#2b2b2b" stroke-width="0.9"/>
<line x1="409.4" y1="294.4" x2="409.4" y2="297.4" stroke="#1a1a1a" stroke-width="1.25"/>
<text font-size="8.4" text-anchor="end" transform="translate(412.3 304.1) rotate(-45) scale(0.93 1)" fill="#1e1e1e" stroke="#1e1e1e" stroke-width="0.14">K-299</text>
<polyline points="251.6,193.5 251.6,190.4 265.6,190.4 265.6,193.5" fill="none" stroke="#333" stroke-width="0.9"/>
<path d="M255.2 185.35L255.2 187.65M254.2 185.93L256.2 187.07M256.2 185.93L254.2 187.07M258.6 185.35L258.6 187.65M257.6 185.93L259.6 187.07M259.6 185.93L257.6 187.07M262 185.35L262 187.65M261 185.93L263 187.07M263 185.93L261 187.07" stroke="#222" stroke-width="0.8" fill="none"/>
<rect x="427.7" y="178.8" width="10.7" height="5.4" fill="#E2891B"/>
<text font-size="7.88" text-anchor="start" transform="translate(442 183.8) scale(0.94 1)" fill="#1e1e1e" stroke="#1e1e1e" stroke-width="0.14">No Tx</text>
<rect x="427.7" y="191.2" width="10.7" height="5.4" fill="#5EAA44"/>
<text font-size="7.88" text-anchor="start" transform="translate(442 196.2) scale(0.94 1)" fill="#1e1e1e" stroke="#1e1e1e" stroke-width="0.14">mIgG1k</text>
<rect x="427.7" y="203.6" width="10.7" height="5.4" fill="#C7C6CB"/>
<text font-size="7.88" text-anchor="start" transform="translate(442 208.6) scale(0.94 1)" fill="#1e1e1e" stroke="#1e1e1e" stroke-width="0.14">B6H12</text>
<rect x="427.7" y="215.9" width="10.7" height="5.4" fill="#8B80C1"/>
<text font-size="7.88" text-anchor="start" transform="translate(442 220.9) scale(0.94 1)" fill="#1e1e1e" stroke="#1e1e1e" stroke-width="0.14">Rituximab</text>
<rect x="427.7" y="228.2" width="10.7" height="5.4" fill="#474F66"/>
<text font-size="7.88" text-anchor="start" transform="translate(442 233.2) scale(0.94 1)" fill="#1e1e1e" stroke="#1e1e1e" stroke-width="0.14">Trastuzumab</text>
<text font-size="11" text-anchor="start" font-weight="bold" transform="translate(7.4 344.6)" fill="#000" stroke="#000" stroke-width="0.14">C</text>
<line x1="46.4" y1="349.2" x2="46.4" y2="468.1" stroke="#1a1a1a" stroke-width="1.25"/>
<line x1="43.4" y1="467.6" x2="46.4" y2="467.6" stroke="#1a1a1a" stroke-width="1.25"/>
<text font-size="9.0" text-anchor="end" transform="translate(39.6 470.35) scale(0.92 1)" fill="#1e1e1e" stroke="#1e1e1e" stroke-width="0.14">0</text>
<line x1="43.4" y1="444.45" x2="46.4" y2="444.45" stroke="#1a1a1a" stroke-width="1.25"/>
<text font-size="9.0" text-anchor="end" transform="translate(39.6 447.2) scale(0.92 1)" fill="#1e1e1e" stroke="#1e1e1e" stroke-width="0.14">5</text>
<line x1="43.4" y1="421.3" x2="46.4" y2="421.3" stroke="#1a1a1a" stroke-width="1.25"/>
<text font-size="9.0" text-anchor="end" transform="translate(39.6 424.05) scale(0.92 1)" fill="#1e1e1e" stroke="#1e1e1e" stroke-width="0.14">10</text>
<line x1="43.4" y1="398.15" x2="46.4" y2="398.15" stroke="#1a1a1a" stroke-width="1.25"/>
<text font-size="9.0" text-anchor="end" transform="translate(39.6 400.9) scale(0.92 1)" fill="#1e1e1e" stroke="#1e1e1e" stroke-width="0.14">15</text>
<line x1="43.4" y1="375" x2="46.4" y2="375" stroke="#1a1a1a" stroke-width="1.25"/>
<text font-size="9.0" text-anchor="end" transform="translate(39.6 377.75) scale(0.92 1)" fill="#1e1e1e" stroke="#1e1e1e" stroke-width="0.14">20</text>
<line x1="43.4" y1="351.85" x2="46.4" y2="351.85" stroke="#1a1a1a" stroke-width="1.25"/>
<text font-size="9.0" text-anchor="end" transform="translate(39.6 354.6) scale(0.92 1)" fill="#1e1e1e" stroke="#1e1e1e" stroke-width="0.14">25</text>
<line x1="45.9" y1="467.6" x2="194.4" y2="467.6" stroke="#1a1a1a" stroke-width="1.25"/>
<text font-size="10.4" text-anchor="middle" transform="translate(120 344.5) scale(0.95 1)" fill="#1e1e1e" stroke="#1e1e1e" stroke-width="0.14">Murine complement</text>
<text font-size="9.0" text-anchor="middle" transform="translate(25.8 410) rotate(-90) scale(0.87 1)" fill="#1e1e1e" stroke="#1e1e1e" stroke-width="0.06">% PI+ cells</text>
<rect x="48.1" y="446.3" width="5.1" height="21.3" fill="#E2891B"/>
<line x1="50.65" y1="446.3" x2="50.65" y2="443.4" stroke="#2b2b2b" stroke-width="0.9"/>
<line x1="49.25" y1="443.4" x2="52.05" y2="443.4" stroke="#2b2b2b" stroke-width="0.9"/>
<rect x="54.65" y="450" width="5.1" height="17.6" fill="#5EAA44"/>
<line x1="57.2" y1="450" x2="57.2" y2="445.6" stroke="#2b2b2b" stroke-width="0.9"/>
<line x1="55.8" y1="445.6" x2="58.6" y2="445.6" stroke="#2b2b2b" stroke-width="0.9"/>
<rect x="61.2" y="452.9" width="5.1" height="14.7" fill="#C7C6CB"/>
<line x1="63.75" y1="452.9" x2="63.75" y2="446.3" stroke="#2b2b2b" stroke-width="0.9"/>
<line x1="62.35" y1="446.3" x2="65.15" y2="446.3" stroke="#2b2b2b" stroke-width="0.9"/>
<rect x="67.75" y="445.9" width="5.1" height="21.7" fill="#A8062F"/>
<line x1="70.3" y1="445.9" x2="70.3" y2="441.5" stroke="#2b2b2b" stroke-width="0.9"/>
<line x1="68.9" y1="441.5" x2="71.7" y2="441.5" stroke="#2b2b2b" stroke-width="0.9"/>
<rect x="74.3" y="446.3" width="5.1" height="21.3" fill="#66A9E1"/>
<line x1="76.85" y1="446.3" x2="76.85" y2="441.5" stroke="#2b2b2b" stroke-width="0.9"/>
<line x1="75.45" y1="441.5" x2="78.25" y2="441.5" stroke="#2b2b2b" stroke-width="0.9"/>
<rect x="80.85" y="380.8" width="5.1" height="86.8" fill="#8B80C1"/>
<line x1="83.4" y1="380.8" x2="83.4" y2="377" stroke="#2b2b2b" stroke-width="0.9"/>
<line x1="82" y1="377" x2="84.8" y2="377" stroke="#2b2b2b" stroke-width="0.9"/>
<rect x="87.4" y="451.9" width="5.1" height="15.7" fill="#474F66"/>
<line x1="89.95" y1="451.9" x2="89.95" y2="448.5" stroke="#2b2b2b" stroke-width="0.9"/>
<line x1="88.55" y1="448.5" x2="91.35" y2="448.5" stroke="#2b2b2b" stroke-width="0.9"/>
<line x1="70" y1="467.6" x2="70" y2="470.6" stroke="#1a1a1a" stroke-width="1.25"/>
<text font-size="8.1" text-anchor="middle" transform="translate(70.6 480.5) scale(0.97 1)" fill="#1e1e1e" stroke="#1e1e1e" stroke-width="0.14">Raji</text>
<rect x="101.5" y="432.5" width="5.1" height="35.1" fill="#E2891B"/>
<line x1="104.05" y1="432.5" x2="104.05" y2="429.4" stroke="#2b2b2b" stroke-width="0.9"/>
<line x1="102.65" y1="429.4" x2="105.45" y2="429.4" stroke="#2b2b2b" stroke-width="0.9"/>
<rect x="108" y="437.1" width="5.1" height="30.5" fill="#5EAA44"/>
<line x1="110.55" y1="437.1" x2="110.55" y2="432.5" stroke="#2b2b2b" stroke-width="0.9"/>
<line x1="109.15" y1="432.5" x2="111.95" y2="432.5" stroke="#2b2b2b" stroke-width="0.9"/>
<rect x="114.5" y="434.4" width="5.1" height="33.2" fill="#C7C6CB"/>
<line x1="117.05" y1="434.4" x2="117.05" y2="427.8" stroke="#2b2b2b" stroke-width="0.9"/>
<line x1="115.65" y1="427.8" x2="118.45" y2="427.8" stroke="#2b2b2b" stroke-width="0.9"/>
<rect x="121" y="441.3" width="5.1" height="26.3" fill="#A8062F"/>
<line x1="123.55" y1="441.3" x2="123.55" y2="434.8" stroke="#2b2b2b" stroke-width="0.9"/>
<line x1="122.15" y1="434.8" x2="124.95" y2="434.8" stroke="#2b2b2b" stroke-width="0.9"/>
<rect x="127.5" y="441.9" width="5.1" height="25.7" fill="#66A9E1"/>
<line x1="130.05" y1="441.9" x2="130.05" y2="436.3" stroke="#2b2b2b" stroke-width="0.9"/>
<line x1="128.65" y1="436.3" x2="131.45" y2="436.3" stroke="#2b2b2b" stroke-width="0.9"/>
<line x1="117.25" y1="467.6" x2="117.25" y2="470.6" stroke="#1a1a1a" stroke-width="1.25"/>
<text font-size="8.1" text-anchor="middle" transform="translate(117.85 480.5) scale(0.97 1)" fill="#1e1e1e" stroke="#1e1e1e" stroke-width="0.14">Myla</text>
<rect x="148.1" y="451" width="5.1" height="16.6" fill="#E2891B"/>
<line x1="150.65" y1="451" x2="150.65" y2="449.1" stroke="#2b2b2b" stroke-width="0.9"/>
<line x1="149.25" y1="449.1" x2="152.05" y2="449.1" stroke="#2b2b2b" stroke-width="0.9"/>
<rect x="154.6" y="456.3" width="5.1" height="11.3" fill="#5EAA44"/>
<line x1="157.15" y1="456.3" x2="157.15" y2="453.5" stroke="#2b2b2b" stroke-width="0.9"/>
<line x1="155.75" y1="453.5" x2="158.55" y2="453.5" stroke="#2b2b2b" stroke-width="0.9"/>
<rect x="161.1" y="449.1" width="5.1" height="18.5" fill="#C7C6CB"/>
<line x1="163.65" y1="449.1" x2="163.65" y2="445.4" stroke="#2b2b2b" stroke-width="0.9"/>
<line x1="162.25" y1="445.4" x2="165.05" y2="445.4" stroke="#2b2b2b" stroke-width="0.9"/>
<rect x="167.6" y="450" width="5.1" height="17.6" fill="#A8062F"/>
<line x1="170.15" y1="450" x2="170.15" y2="443.4" stroke="#2b2b2b" stroke-width="0.9"/>
<line x1="168.75" y1="443.4" x2="171.55" y2="443.4" stroke="#2b2b2b" stroke-width="0.9"/>
<rect x="174.1" y="445.9" width="5.1" height="21.7" fill="#66A9E1"/>
<line x1="176.65" y1="445.9" x2="176.65" y2="442.5" stroke="#2b2b2b" stroke-width="0.9"/>
<line x1="175.25" y1="442.5" x2="178.05" y2="442.5" stroke="#2b2b2b" stroke-width="0.9"/>
<line x1="163.75" y1="467.6" x2="163.75" y2="470.6" stroke="#1a1a1a" stroke-width="1.25"/>
<text font-size="8.1" text-anchor="middle" transform="translate(164.35 480.5) scale(0.97 1)" fill="#1e1e1e" stroke="#1e1e1e" stroke-width="0.14">MAC2A</text>
<polyline points="48.8,367.2 48.8,364 84.8,364 84.8,367.2" fill="none" stroke="#333" stroke-width="0.9"/>
<path d="M61.7 358.95L61.7 361.25M60.7 359.53L62.7 360.68M62.7 359.53L60.7 360.68M65.1 358.95L65.1 361.25M64.1 359.53L66.1 360.68M66.1 359.53L64.1 360.68M68.5 358.95L68.5 361.25M67.5 359.53L69.5 360.68M69.5 359.53L67.5 360.68M71.9 358.95L71.9 361.25M70.9 359.53L72.9 360.68M72.9 359.53L70.9 360.68" stroke="#222" stroke-width="0.8" fill="none"/>
<line x1="225.4" y1="347.2" x2="225.4" y2="468.1" stroke="#1a1a1a" stroke-width="1.25"/>
<line x1="222.4" y1="467.6" x2="225.4" y2="467.6" stroke="#1a1a1a" stroke-width="1.25"/>
<text font-size="9.0" text-anchor="end" transform="translate(218.6 470.35) scale(0.92 1)" fill="#1e1e1e" stroke="#1e1e1e" stroke-width="0.14">0</text>
<line x1="222.4" y1="428.4" x2="225.4" y2="428.4" stroke="#1a1a1a" stroke-width="1.25"/>
<text font-size="9.0" text-anchor="end" transform="translate(218.6 431.15) scale(0.92 1)" fill="#1e1e1e" stroke="#1e1e1e" stroke-width="0.14">10</text>
<line x1="222.4" y1="389.2" x2="225.4" y2="389.2" stroke="#1a1a1a" stroke-width="1.25"/>
<text font-size="9.0" text-anchor="end" transform="translate(218.6 391.95) scale(0.92 1)" fill="#1e1e1e" stroke="#1e1e1e" stroke-width="0.14">20</text>
<line x1="222.4" y1="350" x2="225.4" y2="350" stroke="#1a1a1a" stroke-width="1.25"/>
<text font-size="9.0" text-anchor="end" transform="translate(218.6 352.75) scale(0.92 1)" fill="#1e1e1e" stroke="#1e1e1e" stroke-width="0.14">30</text>
<line x1="224.9" y1="467.6" x2="364.8" y2="467.6" stroke="#1a1a1a" stroke-width="1.25"/>
<text font-size="10.4" text-anchor="middle" transform="translate(295 344.7) scale(0.95 1)" fill="#1e1e1e" stroke="#1e1e1e" stroke-width="0.14">Human complement</text>
<rect x="226.5" y="451.9" width="5.1" height="15.7" fill="#E2891B"/>
<line x1="229.05" y1="451.9" x2="229.05" y2="448.8" stroke="#2b2b2b" stroke-width="0.9"/>
<line x1="227.65" y1="448.8" x2="230.45" y2="448.8" stroke="#2b2b2b" stroke-width="0.9"/>
<rect x="232.75" y="453.5" width="5.1" height="14.1" fill="#5EAA44"/>
<line x1="235.3" y1="453.5" x2="235.3" y2="450" stroke="#2b2b2b" stroke-width="0.9"/>
<line x1="233.9" y1="450" x2="236.7" y2="450" stroke="#2b2b2b" stroke-width="0.9"/>
<rect x="239" y="452.5" width="5.1" height="15.1" fill="#C7C6CB"/>
<line x1="241.55" y1="452.5" x2="241.55" y2="450" stroke="#2b2b2b" stroke-width="0.9"/>
<line x1="240.15" y1="450" x2="242.95" y2="450" stroke="#2b2b2b" stroke-width="0.9"/>
<rect x="245.25" y="448.1" width="5.1" height="19.5" fill="#A8062F"/>
<line x1="247.8" y1="448.1" x2="247.8" y2="446.3" stroke="#2b2b2b" stroke-width="0.9"/>
<line x1="246.4" y1="446.3" x2="249.2" y2="446.3" stroke="#2b2b2b" stroke-width="0.9"/>
<rect x="251.5" y="450.6" width="5.1" height="17" fill="#66A9E1"/>
<line x1="254.05" y1="450.6" x2="254.05" y2="447.3" stroke="#2b2b2b" stroke-width="0.9"/>
<line x1="252.65" y1="447.3" x2="255.45" y2="447.3" stroke="#2b2b2b" stroke-width="0.9"/>
<rect x="257.75" y="378.1" width="5.1" height="89.5" fill="#8B80C1"/>
<line x1="260.3" y1="378.1" x2="260.3" y2="365.3" stroke="#2b2b2b" stroke-width="0.9"/>
<line x1="258.9" y1="365.3" x2="261.7" y2="365.3" stroke="#2b2b2b" stroke-width="0.9"/>
<rect x="264" y="452.9" width="5.1" height="14.7" fill="#474F66"/>
<line x1="266.55" y1="452.9" x2="266.55" y2="450.3" stroke="#2b2b2b" stroke-width="0.9"/>
<line x1="265.15" y1="450.3" x2="267.95" y2="450.3" stroke="#2b2b2b" stroke-width="0.9"/>
<line x1="247.75" y1="467.6" x2="247.75" y2="470.6" stroke="#1a1a1a" stroke-width="1.25"/>
<text font-size="8.1" text-anchor="middle" transform="translate(247.75 480.6) scale(0.97 1)" fill="#1e1e1e" stroke="#1e1e1e" stroke-width="0.14">Raji</text>
<rect x="276.9" y="447.8" width="5.1" height="19.8" fill="#E2891B"/>
<line x1="279.45" y1="447.8" x2="279.45" y2="444.4" stroke="#2b2b2b" stroke-width="0.9"/>
<line x1="278.05" y1="444.4" x2="280.85" y2="444.4" stroke="#2b2b2b" stroke-width="0.9"/>
<rect x="283" y="451.3" width="5.1" height="16.3" fill="#5EAA44"/>
<line x1="285.55" y1="451.3" x2="285.55" y2="447.3" stroke="#2b2b2b" stroke-width="0.9"/>
<line x1="284.15" y1="447.3" x2="286.95" y2="447.3" stroke="#2b2b2b" stroke-width="0.9"/>
<rect x="289.1" y="451.9" width="5.1" height="15.7" fill="#C7C6CB"/>
<line x1="291.65" y1="451.9" x2="291.65" y2="447.3" stroke="#2b2b2b" stroke-width="0.9"/>
<line x1="290.25" y1="447.3" x2="293.05" y2="447.3" stroke="#2b2b2b" stroke-width="0.9"/>
<rect x="295.2" y="452.3" width="5.1" height="15.3" fill="#A8062F"/>
<line x1="297.75" y1="452.3" x2="297.75" y2="448.1" stroke="#2b2b2b" stroke-width="0.9"/>
<line x1="296.35" y1="448.1" x2="299.15" y2="448.1" stroke="#2b2b2b" stroke-width="0.9"/>
<rect x="301.3" y="449.4" width="5.1" height="18.2" fill="#66A9E1"/>
<line x1="303.85" y1="449.4" x2="303.85" y2="446.3" stroke="#2b2b2b" stroke-width="0.9"/>
<line x1="302.45" y1="446.3" x2="305.25" y2="446.3" stroke="#2b2b2b" stroke-width="0.9"/>
<line x1="291.9" y1="467.6" x2="291.9" y2="470.6" stroke="#1a1a1a" stroke-width="1.25"/>
<text font-size="8.1" text-anchor="middle" transform="translate(291.9 480.6) scale(0.97 1)" fill="#1e1e1e" stroke="#1e1e1e" stroke-width="0.14">Myla</text>
<rect x="321" y="448.1" width="5.1" height="19.5" fill="#E2891B"/>
<line x1="323.55" y1="448.1" x2="323.55" y2="444.1" stroke="#2b2b2b" stroke-width="0.9"/>
<line x1="322.15" y1="444.1" x2="324.95" y2="444.1" stroke="#2b2b2b" stroke-width="0.9"/>
<rect x="327.1" y="452.3" width="5.1" height="15.3" fill="#5EAA44"/>
<line x1="329.65" y1="452.3" x2="329.65" y2="448.5" stroke="#2b2b2b" stroke-width="0.9"/>
<line x1="328.25" y1="448.5" x2="331.05" y2="448.5" stroke="#2b2b2b" stroke-width="0.9"/>
<rect x="333.2" y="450.6" width="5.1" height="17" fill="#C7C6CB"/>
<line x1="335.75" y1="450.6" x2="335.75" y2="447.3" stroke="#2b2b2b" stroke-width="0.9"/>
<line x1="334.35" y1="447.3" x2="337.15" y2="447.3" stroke="#2b2b2b" stroke-width="0.9"/>
<rect x="339.3" y="452.9" width="5.1" height="14.7" fill="#A8062F"/>
<line x1="341.85" y1="452.9" x2="341.85" y2="449.4" stroke="#2b2b2b" stroke-width="0.9"/>
<line x1="340.45" y1="449.4" x2="343.25" y2="449.4" stroke="#2b2b2b" stroke-width="0.9"/>
<rect x="345.4" y="451.9" width="5.1" height="15.7" fill="#66A9E1"/>
<line x1="347.95" y1="451.9" x2="347.95" y2="449.4" stroke="#2b2b2b" stroke-width="0.9"/>
<line x1="346.55" y1="449.4" x2="349.35" y2="449.4" stroke="#2b2b2b" stroke-width="0.9"/>
<line x1="335.9" y1="467.6" x2="335.9" y2="470.6" stroke="#1a1a1a" stroke-width="1.25"/>
<text font-size="8.1" text-anchor="middle" transform="translate(335.9 480.6) scale(0.97 1)" fill="#1e1e1e" stroke="#1e1e1e" stroke-width="0.14">MAC2A</text>
<polyline points="227.8,359.4 227.8,356 260.6,356 260.6,362.3" fill="none" stroke="#333" stroke-width="0.9"/>
<path d="M242.6 351.15L242.6 353.45M241.6 351.73L243.6 352.88M243.6 351.73L241.6 352.88M246 351.15L246 353.45M245 351.73L247 352.88M247 351.73L245 352.88" stroke="#222" stroke-width="0.8" fill="none"/>
<rect x="370.8" y="351.9" width="10.8" height="5.4" fill="#E2891B"/>
<text font-size="7.88" text-anchor="start" transform="translate(385 356.9) scale(0.94 1)" fill="#1e1e1e" stroke="#1e1e1e" stroke-width="0.14">No Tx</text>
<rect x="370.8" y="364.3" width="10.8" height="5.4" fill="#5EAA44"/>
<text font-size="7.88" text-anchor="start" transform="translate(385 369.3) scale(0.94 1)" fill="#1e1e1e" stroke="#1e1e1e" stroke-width="0.14">mIgG1k</text>
<rect x="370.8" y="376.6" width="10.8" height="5.4" fill="#C7C6CB"/>
<text font-size="7.88" text-anchor="start" transform="translate(385 381.6) scale(0.94 1)" fill="#1e1e1e" stroke="#1e1e1e" stroke-width="0.14">B6H12</text>
<rect x="370.8" y="389" width="10.8" height="5.4" fill="#A8062F"/>
<text font-size="7.88" text-anchor="start" transform="translate(385 394) scale(0.94 1)" fill="#1e1e1e" stroke="#1e1e1e" stroke-width="0.14">hIgG1</text>
<rect x="370.8" y="401.4" width="10.8" height="5.4" fill="#66A9E1"/>
<text font-size="7.88" text-anchor="start" transform="translate(385 406.4) scale(0.94 1)" fill="#1e1e1e" stroke="#1e1e1e" stroke-width="0.14">B6H12-hIgG1</text>
<rect x="370.8" y="413.8" width="10.8" height="5.4" fill="#8B80C1"/>
<text font-size="7.88" text-anchor="start" transform="translate(385 418.8) scale(0.94 1)" fill="#1e1e1e" stroke="#1e1e1e" stroke-width="0.14">Rituximab</text>
<rect x="370.8" y="426.2" width="10.8" height="5.4" fill="#474F66"/>
<text font-size="7.88" text-anchor="start" transform="translate(385 431.2) scale(0.94 1)" fill="#1e1e1e" stroke="#1e1e1e" stroke-width="0.14">Trastuzumab</text>
<text font-size="11" text-anchor="start" font-weight="bold" transform="translate(7.4 501.4)" fill="#000" stroke="#000" stroke-width="0.14">D</text>
<line x1="47" y1="511.5" x2="47" y2="630.7" stroke="#1a1a1a" stroke-width="1.25"/>
<line x1="44" y1="630.2" x2="47" y2="630.2" stroke="#1a1a1a" stroke-width="1.25"/>
<text font-size="9.0" text-anchor="end" transform="translate(40.2 632.95) scale(0.92 1)" fill="#1e1e1e" stroke="#1e1e1e" stroke-width="0.14">0</text>
<line x1="44" y1="591.53" x2="47" y2="591.53" stroke="#1a1a1a" stroke-width="1.25"/>
<text font-size="9.0" text-anchor="end" transform="translate(40.2 594.28) scale(0.92 1)" fill="#1e1e1e" stroke="#1e1e1e" stroke-width="0.14">10</text>
<line x1="44" y1="552.86" x2="47" y2="552.86" stroke="#1a1a1a" stroke-width="1.25"/>
<text font-size="9.0" text-anchor="end" transform="translate(40.2 555.61) scale(0.92 1)" fill="#1e1e1e" stroke="#1e1e1e" stroke-width="0.14">20</text>
<line x1="44" y1="514.19" x2="47" y2="514.19" stroke="#1a1a1a" stroke-width="1.25"/>
<text font-size="9.0" text-anchor="end" transform="translate(40.2 516.94) scale(0.92 1)" fill="#1e1e1e" stroke="#1e1e1e" stroke-width="0.14">30</text>
<line x1="46.5" y1="630.2" x2="222" y2="630.2" stroke="#1a1a1a" stroke-width="1.25"/>
<text font-size="10.4" text-anchor="middle" transform="translate(134.4 502.2) scale(0.91 1)" fill="#1e1e1e" stroke="#1e1e1e" stroke-width="0.14">Jurkat-mFc&#947;RIII</text>
<text font-size="9.0" text-anchor="middle" transform="translate(26.1 572) rotate(-90) scale(0.87 1)" fill="#1e1e1e" stroke="#1e1e1e" stroke-width="0.06">Fold induction</text>
<rect x="48.7" y="626.7" width="4.1" height="3.5" fill="#5EAA44"/>
<line x1="50.75" y1="626.7" x2="50.75" y2="625.6" stroke="#2b2b2b" stroke-width="0.9"/>
<line x1="49.75" y1="625.6" x2="51.75" y2="625.6" stroke="#2b2b2b" stroke-width="0.9"/>
<rect x="53.85" y="592.8" width="4.1" height="37.4" fill="#C7C6CB"/>
<line x1="55.9" y1="592.8" x2="55.9" y2="591" stroke="#2b2b2b" stroke-width="0.9"/>
<line x1="54.9" y1="591" x2="56.9" y2="591" stroke="#2b2b2b" stroke-width="0.9"/>
<rect x="59" y="557.4" width="4.1" height="72.8" fill="#A8062F"/>
<line x1="61.05" y1="557.4" x2="61.05" y2="556" stroke="#2b2b2b" stroke-width="0.9"/>
<line x1="60.05" y1="556" x2="62.05" y2="556" stroke="#2b2b2b" stroke-width="0.9"/>
<rect x="64.15" y="626.7" width="4.1" height="3.5" fill="#27467F"/>
<line x1="66.2" y1="626.7" x2="66.2" y2="625.8" stroke="#2b2b2b" stroke-width="0.9"/>
<line x1="65.2" y1="625.8" x2="67.2" y2="625.8" stroke="#2b2b2b" stroke-width="0.9"/>
<rect x="69.3" y="626.4" width="4.1" height="3.8" fill="#4D1D63"/>
<line x1="71.35" y1="626.4" x2="71.35" y2="625.3" stroke="#2b2b2b" stroke-width="0.9"/>
<line x1="70.35" y1="625.3" x2="72.35" y2="625.3" stroke="#2b2b2b" stroke-width="0.9"/>
<line x1="60.9" y1="630.2" x2="60.9" y2="633.2" stroke="#1a1a1a" stroke-width="1.25"/>
<text font-size="8.4" text-anchor="end" transform="translate(66 640.3) rotate(-45) scale(0.93 1)" fill="#1e1e1e" stroke="#1e1e1e" stroke-width="0.14">HuT-78</text>
<rect x="77.9" y="626.7" width="4.1" height="3.5" fill="#5EAA44"/>
<line x1="79.95" y1="626.7" x2="79.95" y2="625.6" stroke="#2b2b2b" stroke-width="0.9"/>
<line x1="78.95" y1="625.6" x2="80.95" y2="625.6" stroke="#2b2b2b" stroke-width="0.9"/>
<rect x="83.05" y="592" width="4.1" height="38.2" fill="#C7C6CB"/>
<line x1="85.1" y1="592" x2="85.1" y2="588.4" stroke="#2b2b2b" stroke-width="0.9"/>
<line x1="84.1" y1="588.4" x2="86.1" y2="588.4" stroke="#2b2b2b" stroke-width="0.9"/>
<rect x="88.2" y="554.3" width="4.1" height="75.9" fill="#A8062F"/>
<line x1="90.25" y1="554.3" x2="90.25" y2="540.3" stroke="#2b2b2b" stroke-width="0.9"/>
<line x1="89.25" y1="540.3" x2="91.25" y2="540.3" stroke="#2b2b2b" stroke-width="0.9"/>
<rect x="93.35" y="627" width="4.1" height="3.2" fill="#27467F"/>
<line x1="95.4" y1="627" x2="95.4" y2="626.2" stroke="#2b2b2b" stroke-width="0.9"/>
<line x1="94.4" y1="626.2" x2="96.4" y2="626.2" stroke="#2b2b2b" stroke-width="0.9"/>
<rect x="98.5" y="626.4" width="4.1" height="3.8" fill="#4D1D63"/>
<line x1="100.55" y1="626.4" x2="100.55" y2="625.4" stroke="#2b2b2b" stroke-width="0.9"/>
<line x1="99.55" y1="625.4" x2="101.55" y2="625.4" stroke="#2b2b2b" stroke-width="0.9"/>
<line x1="90.1" y1="630.2" x2="90.1" y2="633.2" stroke="#1a1a1a" stroke-width="1.25"/>
<text font-size="8.4" text-anchor="end" transform="translate(95.2 640.3) rotate(-45) scale(0.93 1)" fill="#1e1e1e" stroke="#1e1e1e" stroke-width="0.14">HH</text>
<rect x="107.2" y="627.4" width="4.1" height="2.8" fill="#5EAA44"/>
<line x1="109.25" y1="627.4" x2="109.25" y2="626.4" stroke="#2b2b2b" stroke-width="0.9"/>
<line x1="108.25" y1="626.4" x2="110.25" y2="626.4" stroke="#2b2b2b" stroke-width="0.9"/>
<rect x="112.35" y="599.8" width="4.1" height="30.4" fill="#C7C6CB"/>
<line x1="114.4" y1="599.8" x2="114.4" y2="597.2" stroke="#2b2b2b" stroke-width="0.9"/>
<line x1="113.4" y1="597.2" x2="115.4" y2="597.2" stroke="#2b2b2b" stroke-width="0.9"/>
<rect x="117.5" y="572.6" width="4.1" height="57.6" fill="#A8062F"/>
<line x1="119.55" y1="572.6" x2="119.55" y2="569.1" stroke="#2b2b2b" stroke-width="0.9"/>
<line x1="118.55" y1="569.1" x2="120.55" y2="569.1" stroke="#2b2b2b" stroke-width="0.9"/>
<rect x="122.65" y="627.4" width="4.1" height="2.8" fill="#27467F"/>
<line x1="124.7" y1="627.4" x2="124.7" y2="626.4" stroke="#2b2b2b" stroke-width="0.9"/>
<line x1="123.7" y1="626.4" x2="125.7" y2="626.4" stroke="#2b2b2b" stroke-width="0.9"/>
<rect x="127.8" y="627" width="4.1" height="3.2" fill="#4D1D63"/>
<line x1="129.85" y1="627" x2="129.85" y2="626" stroke="#2b2b2b" stroke-width="0.9"/>
<line x1="128.85" y1="626" x2="130.85" y2="626" stroke="#2b2b2b" stroke-width="0.9"/>
<line x1="119.4" y1="630.2" x2="119.4" y2="633.2" stroke="#1a1a1a" stroke-width="1.25"/>
<text font-size="8.4" text-anchor="end" transform="translate(124.5 640.3) rotate(-45) scale(0.93 1)" fill="#1e1e1e" stroke="#1e1e1e" stroke-width="0.14">Myla</text>
<rect x="136.6" y="627" width="4.1" height="3.2" fill="#5EAA44"/>
<line x1="138.65" y1="627" x2="138.65" y2="625.6" stroke="#2b2b2b" stroke-width="0.9"/>
<line x1="137.65" y1="625.6" x2="139.65" y2="625.6" stroke="#2b2b2b" stroke-width="0.9"/>
<rect x="141.75" y="583.3" width="4.1" height="46.9" fill="#C7C6CB"/>
<line x1="143.8" y1="583.3" x2="143.8" y2="580" stroke="#2b2b2b" stroke-width="0.9"/>
<line x1="142.8" y1="580" x2="144.8" y2="580" stroke="#2b2b2b" stroke-width="0.9"/>
<rect x="146.9" y="546.3" width="4.1" height="83.9" fill="#A8062F"/>
<line x1="148.95" y1="546.3" x2="148.95" y2="538" stroke="#2b2b2b" stroke-width="0.9"/>
<line x1="147.95" y1="538" x2="149.95" y2="538" stroke="#2b2b2b" stroke-width="0.9"/>
<rect x="152.05" y="627" width="4.1" height="3.2" fill="#27467F"/>
<line x1="154.1" y1="627" x2="154.1" y2="626" stroke="#2b2b2b" stroke-width="0.9"/>
<line x1="153.1" y1="626" x2="155.1" y2="626" stroke="#2b2b2b" stroke-width="0.9"/>
<rect x="157.2" y="626.4" width="4.1" height="3.8" fill="#4D1D63"/>
<line x1="159.25" y1="626.4" x2="159.25" y2="625" stroke="#2b2b2b" stroke-width="0.9"/>
<line x1="158.25" y1="625" x2="160.25" y2="625" stroke="#2b2b2b" stroke-width="0.9"/>
<line x1="148.8" y1="630.2" x2="148.8" y2="633.2" stroke="#1a1a1a" stroke-width="1.25"/>
<text font-size="8.4" text-anchor="end" transform="translate(153.9 640.3) rotate(-45) scale(0.93 1)" fill="#1e1e1e" stroke="#1e1e1e" stroke-width="0.14">SUP-M2</text>
<rect x="165.7" y="627" width="4.1" height="3.2" fill="#5EAA44"/>
<line x1="167.75" y1="627" x2="167.75" y2="626" stroke="#2b2b2b" stroke-width="0.9"/>
<line x1="166.75" y1="626" x2="168.75" y2="626" stroke="#2b2b2b" stroke-width="0.9"/>
<rect x="170.85" y="584.3" width="4.1" height="45.9" fill="#C7C6CB"/>
<line x1="172.9" y1="584.3" x2="172.9" y2="575.2" stroke="#2b2b2b" stroke-width="0.9"/>
<line x1="171.9" y1="575.2" x2="173.9" y2="575.2" stroke="#2b2b2b" stroke-width="0.9"/>
<rect x="176" y="574.1" width="4.1" height="56.1" fill="#A8062F"/>
<line x1="178.05" y1="574.1" x2="178.05" y2="565.4" stroke="#2b2b2b" stroke-width="0.9"/>
<line x1="177.05" y1="565.4" x2="179.05" y2="565.4" stroke="#2b2b2b" stroke-width="0.9"/>
<rect x="181.15" y="627" width="4.1" height="3.2" fill="#27467F"/>
<line x1="183.2" y1="627" x2="183.2" y2="626" stroke="#2b2b2b" stroke-width="0.9"/>
<line x1="182.2" y1="626" x2="184.2" y2="626" stroke="#2b2b2b" stroke-width="0.9"/>
<rect x="186.3" y="627" width="4.1" height="3.2" fill="#4D1D63"/>
<line x1="188.35" y1="627" x2="188.35" y2="626" stroke="#2b2b2b" stroke-width="0.9"/>
<line x1="187.35" y1="626" x2="189.35" y2="626" stroke="#2b2b2b" stroke-width="0.9"/>
<line x1="177.9" y1="630.2" x2="177.9" y2="633.2" stroke="#1a1a1a" stroke-width="1.25"/>
<text font-size="8.4" text-anchor="end" transform="translate(183 640.3) rotate(-45) scale(0.93 1)" fill="#1e1e1e" stroke="#1e1e1e" stroke-width="0.14">MAC2A</text>
<rect x="195" y="627" width="4.1" height="3.2" fill="#5EAA44"/>
<line x1="197.05" y1="627" x2="197.05" y2="626" stroke="#2b2b2b" stroke-width="0.9"/>
<line x1="196.05" y1="626" x2="198.05" y2="626" stroke="#2b2b2b" stroke-width="0.9"/>
<rect x="200.15" y="574.7" width="4.1" height="55.5" fill="#C7C6CB"/>
<line x1="202.2" y1="574.7" x2="202.2" y2="565.4" stroke="#2b2b2b" stroke-width="0.9"/>
<line x1="201.2" y1="565.4" x2="203.2" y2="565.4" stroke="#2b2b2b" stroke-width="0.9"/>
<rect x="205.3" y="569.5" width="4.1" height="60.7" fill="#A8062F"/>
<line x1="207.35" y1="569.5" x2="207.35" y2="563.7" stroke="#2b2b2b" stroke-width="0.9"/>
<line x1="206.35" y1="563.7" x2="208.35" y2="563.7" stroke="#2b2b2b" stroke-width="0.9"/>
<rect x="210.45" y="625.4" width="4.1" height="4.8" fill="#27467F"/>
<line x1="212.5" y1="625.4" x2="212.5" y2="624.4" stroke="#2b2b2b" stroke-width="0.9"/>
<line x1="211.5" y1="624.4" x2="213.5" y2="624.4" stroke="#2b2b2b" stroke-width="0.9"/>
<rect x="215.6" y="626" width="4.1" height="4.2" fill="#4D1D63"/>
<line x1="217.65" y1="626" x2="217.65" y2="625" stroke="#2b2b2b" stroke-width="0.9"/>
<line x1="216.65" y1="625" x2="218.65" y2="625" stroke="#2b2b2b" stroke-width="0.9"/>
<line x1="207.2" y1="630.2" x2="207.2" y2="633.2" stroke="#1a1a1a" stroke-width="1.25"/>
<text font-size="8.4" text-anchor="end" transform="translate(212.3 640.3) rotate(-45) scale(0.93 1)" fill="#1e1e1e" stroke="#1e1e1e" stroke-width="0.14">K-299</text>
<polyline points="49.2,553.8 49.2,550.5 56.6,550.5 56.6,553.8" fill="none" stroke="#333" stroke-width="0.9"/>
<path d="M49.8 545.05L49.8 547.35M48.8 545.62L50.8 546.78M50.8 545.62L48.8 546.78M53.2 545.05L53.2 547.35M52.2 545.62L54.2 546.78M54.2 545.62L52.2 546.78M56.6 545.05L56.6 547.35M55.6 545.62L57.6 546.78M57.6 545.62L55.6 546.78M60 545.05L60 547.35M59 545.62L61 546.78M61 545.62L59 546.78" stroke="#222" stroke-width="0.8" fill="none"/>
<polyline points="75.9,582.7 75.9,577.6 84.4,577.6 84.4,582.7" fill="none" stroke="#333" stroke-width="0.9"/>
<path d="M75.1 573.05L75.1 575.35M74.1 573.62L76.1 574.78M76.1 573.62L74.1 574.78M78.5 573.05L78.5 575.35M77.5 573.62L79.5 574.78M79.5 573.62L77.5 574.78M81.9 573.05L81.9 575.35M80.9 573.62L82.9 574.78M82.9 573.62L80.9 574.78M85.3 573.05L85.3 575.35M84.3 573.62L86.3 574.78M86.3 573.62L84.3 574.78" stroke="#222" stroke-width="0.8" fill="none"/>
<polyline points="106.3,590 106.3,584.4 114.5,584.4 114.5,590" fill="none" stroke="#333" stroke-width="0.9"/>
<path d="M104.8 579.25L104.8 581.55M103.8 579.82L105.8 580.98M105.8 579.82L103.8 580.98M108.2 579.25L108.2 581.55M107.2 579.82L109.2 580.98M109.2 579.82L107.2 580.98M111.6 579.25L111.6 581.55M110.6 579.82L112.6 580.98M112.6 579.82L110.6 580.98M115 579.25L115 581.55M114 579.82L116 580.98M116 579.82L114 580.98" stroke="#222" stroke-width="0.8" fill="none"/>
<polyline points="135.4,574.1 135.4,568.7 143.6,568.7 143.6,574.1" fill="none" stroke="#333" stroke-width="0.9"/>
<path d="M134.3 563.55L134.3 565.85M133.3 564.12L135.3 565.28M135.3 564.12L133.3 565.28M137.7 563.55L137.7 565.85M136.7 564.12L138.7 565.28M138.7 564.12L136.7 565.28M141.1 563.55L141.1 565.85M140.1 564.12L142.1 565.28M142.1 564.12L140.1 565.28M144.5 563.55L144.5 565.85M143.5 564.12L145.5 565.28M145.5 564.12L143.5 565.28" stroke="#222" stroke-width="0.8" fill="none"/>
<polyline points="165.2,570.3 165.2,564.5 173.4,564.5 173.4,570.3" fill="none" stroke="#333" stroke-width="0.9"/>
<path d="M166 559.75L166 562.05M165 560.32L167 561.48M167 560.32L165 561.48M169.4 559.75L169.4 562.05M168.4 560.32L170.4 561.48M170.4 560.32L168.4 561.48M172.8 559.75L172.8 562.05M171.8 560.32L173.8 561.48M173.8 560.32L171.8 561.48" stroke="#222" stroke-width="0.8" fill="none"/>
<polyline points="194.5,559.6 194.5,553.8 202.7,553.8 202.7,559.6" fill="none" stroke="#333" stroke-width="0.9"/>
<path d="M195.2 549.45L195.2 551.75M194.2 550.02L196.2 551.18M196.2 550.02L194.2 551.18M198.6 549.45L198.6 551.75M197.6 550.02L199.6 551.18M199.6 550.02L197.6 551.18M202 549.45L202 551.75M201 550.02L203 551.18M203 550.02L201 551.18" stroke="#222" stroke-width="0.8" fill="none"/>
<rect x="63" y="512" width="10.8" height="5.4" fill="#5EAA44"/>
<text font-size="7.88" text-anchor="start" transform="translate(77 517) scale(0.94 1)" fill="#1e1e1e" stroke="#1e1e1e" stroke-width="0.14">mIgG1k</text>
<rect x="63" y="524.4" width="10.8" height="5.4" fill="#27467F"/>
<text font-size="7.88" text-anchor="start" transform="translate(77 529.4) scale(0.94 1)" fill="#1e1e1e" stroke="#1e1e1e" stroke-width="0.14">mIgG2ak</text>
<rect x="118.2" y="512" width="10.8" height="5.4" fill="#C7C6CB"/>
<text font-size="7.88" text-anchor="start" transform="translate(132.2 517) scale(0.94 1)" fill="#1e1e1e" stroke="#1e1e1e" stroke-width="0.14">B6H12</text>
<rect x="118.2" y="524.4" width="10.8" height="5.4" fill="#4D1D63"/>
<text font-size="7.88" text-anchor="start" transform="translate(132.2 529.4) scale(0.94 1)" fill="#1e1e1e" stroke="#1e1e1e" stroke-width="0.14">B6H12 F(ab&#8217;)2</text>
<rect x="168.7" y="512" width="10.8" height="5.4" fill="#A8062F"/>
<text font-size="7.88" text-anchor="start" transform="translate(182.7 517) scale(0.94 1)" fill="#1e1e1e" stroke="#1e1e1e" stroke-width="0.14">OKT3</text>
<text font-size="11" text-anchor="start" font-weight="bold" transform="translate(226.8 501.4)" fill="#000" stroke="#000" stroke-width="0.14">E</text>
<line x1="264.3" y1="511.9" x2="264.3" y2="630.75" stroke="#1a1a1a" stroke-width="1.25"/>
<line x1="261.3" y1="630.25" x2="264.3" y2="630.25" stroke="#1a1a1a" stroke-width="1.25"/>
<text font-size="9.0" text-anchor="end" transform="translate(257.5 633) scale(0.92 1)" fill="#1e1e1e" stroke="#1e1e1e" stroke-width="0.14">0</text>
<line x1="261.3" y1="601.25" x2="264.3" y2="601.25" stroke="#1a1a1a" stroke-width="1.25"/>
<text font-size="9.0" text-anchor="end" transform="translate(257.5 604) scale(0.92 1)" fill="#1e1e1e" stroke="#1e1e1e" stroke-width="0.14">10</text>
<line x1="261.3" y1="572.25" x2="264.3" y2="572.25" stroke="#1a1a1a" stroke-width="1.25"/>
<text font-size="9.0" text-anchor="end" transform="translate(257.5 575) scale(0.92 1)" fill="#1e1e1e" stroke="#1e1e1e" stroke-width="0.14">20</text>
<line x1="261.3" y1="543.25" x2="264.3" y2="543.25" stroke="#1a1a1a" stroke-width="1.25"/>
<text font-size="9.0" text-anchor="end" transform="translate(257.5 546) scale(0.92 1)" fill="#1e1e1e" stroke="#1e1e1e" stroke-width="0.14">30</text>
<line x1="261.3" y1="514.25" x2="264.3" y2="514.25" stroke="#1a1a1a" stroke-width="1.25"/>
<text font-size="9.0" text-anchor="end" transform="translate(257.5 517) scale(0.92 1)" fill="#1e1e1e" stroke="#1e1e1e" stroke-width="0.14">40</text>
<line x1="263.8" y1="630.25" x2="437.7" y2="630.25" stroke="#1a1a1a" stroke-width="1.25"/>
<text font-size="10.4" text-anchor="middle" transform="translate(351 501.5) scale(0.95 1)" fill="#1e1e1e" stroke="#1e1e1e" stroke-width="0.14">Human NK cells</text>
<text font-size="9.0" text-anchor="middle" transform="translate(243.4 572.3) rotate(-90) scale(0.83 1)" fill="#1e1e1e" stroke="#1e1e1e" stroke-width="0.06">% PI pos cells</text>
<rect x="265.6" y="616" width="4" height="14.25" fill="#5EAA44"/>
<line x1="267.6" y1="616" x2="267.6" y2="614.4" stroke="#2b2b2b" stroke-width="0.9"/>
<line x1="266.6" y1="614.4" x2="268.6" y2="614.4" stroke="#2b2b2b" stroke-width="0.9"/>
<rect x="270.25" y="616.9" width="4" height="13.35" fill="#C7C6CB"/>
<line x1="272.25" y1="616.9" x2="272.25" y2="615" stroke="#2b2b2b" stroke-width="0.9"/>
<line x1="271.25" y1="615" x2="273.25" y2="615" stroke="#2b2b2b" stroke-width="0.9"/>
<rect x="274.9" y="617.1" width="4" height="13.15" fill="#A8062F"/>
<line x1="276.9" y1="617.1" x2="276.9" y2="615.4" stroke="#2b2b2b" stroke-width="0.9"/>
<line x1="275.9" y1="615.4" x2="277.9" y2="615.4" stroke="#2b2b2b" stroke-width="0.9"/>
<rect x="279.55" y="595.6" width="4" height="34.65" fill="#66A9E1"/>
<line x1="281.55" y1="595.6" x2="281.55" y2="592.8" stroke="#2b2b2b" stroke-width="0.9"/>
<line x1="280.55" y1="592.8" x2="282.55" y2="592.8" stroke="#2b2b2b" stroke-width="0.9"/>
<rect x="284.2" y="615" width="4" height="15.25" fill="#4D1D63"/>
<line x1="286.2" y1="615" x2="286.2" y2="612.3" stroke="#2b2b2b" stroke-width="0.9"/>
<line x1="285.2" y1="612.3" x2="287.2" y2="612.3" stroke="#2b2b2b" stroke-width="0.9"/>
<line x1="281.2" y1="630.25" x2="281.2" y2="633.25" stroke="#1a1a1a" stroke-width="1.25"/>
<text font-size="8.4" text-anchor="end" transform="translate(284.1 639.95) rotate(-45) scale(0.93 1)" fill="#1e1e1e" stroke="#1e1e1e" stroke-width="0.14">HuT-78</text>
<rect x="300.6" y="615" width="4" height="15.25" fill="#5EAA44"/>
<line x1="302.6" y1="615" x2="302.6" y2="613.8" stroke="#2b2b2b" stroke-width="0.9"/>
<line x1="301.6" y1="613.8" x2="303.6" y2="613.8" stroke="#2b2b2b" stroke-width="0.9"/>
<rect x="305.25" y="617.3" width="4" height="12.95" fill="#C7C6CB"/>
<line x1="307.25" y1="617.3" x2="307.25" y2="614.4" stroke="#2b2b2b" stroke-width="0.9"/>
<line x1="306.25" y1="614.4" x2="308.25" y2="614.4" stroke="#2b2b2b" stroke-width="0.9"/>
<rect x="309.9" y="617.8" width="4" height="12.45" fill="#A8062F"/>
<line x1="311.9" y1="617.8" x2="311.9" y2="615.6" stroke="#2b2b2b" stroke-width="0.9"/>
<line x1="310.9" y1="615.6" x2="312.9" y2="615.6" stroke="#2b2b2b" stroke-width="0.9"/>
<rect x="314.55" y="573.5" width="4" height="56.75" fill="#66A9E1"/>
<line x1="316.55" y1="573.5" x2="316.55" y2="570.6" stroke="#2b2b2b" stroke-width="0.9"/>
<line x1="315.55" y1="570.6" x2="317.55" y2="570.6" stroke="#2b2b2b" stroke-width="0.9"/>
<rect x="319.2" y="616.3" width="4" height="13.95" fill="#4D1D63"/>
<line x1="321.2" y1="616.3" x2="321.2" y2="614.1" stroke="#2b2b2b" stroke-width="0.9"/>
<line x1="320.2" y1="614.1" x2="322.2" y2="614.1" stroke="#2b2b2b" stroke-width="0.9"/>
<line x1="316.2" y1="630.25" x2="316.2" y2="633.25" stroke="#1a1a1a" stroke-width="1.25"/>
<text font-size="8.4" text-anchor="end" transform="translate(319.1 639.95) rotate(-45) scale(0.93 1)" fill="#1e1e1e" stroke="#1e1e1e" stroke-width="0.14">Myla</text>
<rect x="335.6" y="608.8" width="4" height="21.45" fill="#5EAA44"/>
<line x1="337.6" y1="608.8" x2="337.6" y2="606.9" stroke="#2b2b2b" stroke-width="0.9"/>
<line x1="336.6" y1="606.9" x2="338.6" y2="606.9" stroke="#2b2b2b" stroke-width="0.9"/>
<rect x="340.25" y="611.3" width="4" height="18.95" fill="#C7C6CB"/>
<line x1="342.25" y1="611.3" x2="342.25" y2="609" stroke="#2b2b2b" stroke-width="0.9"/>
<line x1="341.25" y1="609" x2="343.25" y2="609" stroke="#2b2b2b" stroke-width="0.9"/>
<rect x="344.9" y="610" width="4" height="20.25" fill="#A8062F"/>
<line x1="346.9" y1="610" x2="346.9" y2="606.6" stroke="#2b2b2b" stroke-width="0.9"/>
<line x1="345.9" y1="606.6" x2="347.9" y2="606.6" stroke="#2b2b2b" stroke-width="0.9"/>
<rect x="349.55" y="548.1" width="4" height="82.15" fill="#66A9E1"/>
<line x1="351.55" y1="548.1" x2="351.55" y2="542.5" stroke="#2b2b2b" stroke-width="0.9"/>
<line x1="350.55" y1="542.5" x2="352.55" y2="542.5" stroke="#2b2b2b" stroke-width="0.9"/>
<rect x="354.2" y="611" width="4" height="19.25" fill="#4D1D63"/>
<line x1="356.2" y1="611" x2="356.2" y2="607.5" stroke="#2b2b2b" stroke-width="0.9"/>
<line x1="355.2" y1="607.5" x2="357.2" y2="607.5" stroke="#2b2b2b" stroke-width="0.9"/>
<line x1="351.2" y1="630.25" x2="351.2" y2="633.25" stroke="#1a1a1a" stroke-width="1.25"/>
<text font-size="8.4" text-anchor="end" transform="translate(354.1 639.95) rotate(-45) scale(0.93 1)" fill="#1e1e1e" stroke="#1e1e1e" stroke-width="0.14">MAC2A</text>
<rect x="371" y="626" width="4" height="4.25" fill="#5EAA44"/>
<line x1="373" y1="626" x2="373" y2="625" stroke="#2b2b2b" stroke-width="0.9"/>
<line x1="372" y1="625" x2="374" y2="625" stroke="#2b2b2b" stroke-width="0.9"/>
<rect x="375.65" y="624.8" width="4" height="5.45" fill="#C7C6CB"/>
<line x1="377.65" y1="624.8" x2="377.65" y2="623.8" stroke="#2b2b2b" stroke-width="0.9"/>
<line x1="376.65" y1="623.8" x2="378.65" y2="623.8" stroke="#2b2b2b" stroke-width="0.9"/>
<rect x="380.3" y="624" width="4" height="6.25" fill="#A8062F"/>
<line x1="382.3" y1="624" x2="382.3" y2="622.1" stroke="#2b2b2b" stroke-width="0.9"/>
<line x1="381.3" y1="622.1" x2="383.3" y2="622.1" stroke="#2b2b2b" stroke-width="0.9"/>
<rect x="384.95" y="602.5" width="4" height="27.75" fill="#66A9E1"/>
<line x1="386.95" y1="602.5" x2="386.95" y2="599.8" stroke="#2b2b2b" stroke-width="0.9"/>
<line x1="385.95" y1="599.8" x2="387.95" y2="599.8" stroke="#2b2b2b" stroke-width="0.9"/>
<rect x="389.6" y="624.4" width="4" height="5.85" fill="#4D1D63"/>
<line x1="391.6" y1="624.4" x2="391.6" y2="622.5" stroke="#2b2b2b" stroke-width="0.9"/>
<line x1="390.6" y1="622.5" x2="392.6" y2="622.5" stroke="#2b2b2b" stroke-width="0.9"/>
<line x1="386.6" y1="630.25" x2="386.6" y2="633.25" stroke="#1a1a1a" stroke-width="1.25"/>
<text font-size="8.4" text-anchor="end" transform="translate(389.5 639.95) rotate(-45) scale(0.93 1)" fill="#1e1e1e" stroke="#1e1e1e" stroke-width="0.14">K-299</text>
<rect x="406" y="617.9" width="4" height="12.35" fill="#5EAA44"/>
<line x1="408" y1="617.9" x2="408" y2="615.1" stroke="#2b2b2b" stroke-width="0.9"/>
<line x1="407" y1="615.1" x2="409" y2="615.1" stroke="#2b2b2b" stroke-width="0.9"/>
<rect x="410.65" y="619.6" width="4" height="10.65" fill="#C7C6CB"/>
<line x1="412.65" y1="619.6" x2="412.65" y2="617.1" stroke="#2b2b2b" stroke-width="0.9"/>
<line x1="411.65" y1="617.1" x2="413.65" y2="617.1" stroke="#2b2b2b" stroke-width="0.9"/>
<rect x="415.3" y="616.3" width="4" height="13.95" fill="#A8062F"/>
<line x1="417.3" y1="616.3" x2="417.3" y2="615.1" stroke="#2b2b2b" stroke-width="0.9"/>
<line x1="416.3" y1="615.1" x2="418.3" y2="615.1" stroke="#2b2b2b" stroke-width="0.9"/>
<rect x="419.95" y="568.1" width="4" height="62.15" fill="#66A9E1"/>
<line x1="421.95" y1="568.1" x2="421.95" y2="561.5" stroke="#2b2b2b" stroke-width="0.9"/>
<line x1="420.95" y1="561.5" x2="422.95" y2="561.5" stroke="#2b2b2b" stroke-width="0.9"/>
<rect x="424.6" y="613.8" width="4" height="16.45" fill="#4D1D63"/>
<line x1="426.6" y1="613.8" x2="426.6" y2="611.3" stroke="#2b2b2b" stroke-width="0.9"/>
<line x1="425.6" y1="611.3" x2="427.6" y2="611.3" stroke="#2b2b2b" stroke-width="0.9"/>
<rect x="429.25" y="557.9" width="4" height="72.35" fill="#8B80C1"/>
<line x1="431.25" y1="557.9" x2="431.25" y2="553.3" stroke="#2b2b2b" stroke-width="0.9"/>
<line x1="430.25" y1="553.3" x2="432.25" y2="553.3" stroke="#2b2b2b" stroke-width="0.9"/>
<rect x="433.9" y="616.3" width="4" height="13.95" fill="#474F66"/>
<line x1="435.9" y1="616.3" x2="435.9" y2="615.5" stroke="#2b2b2b" stroke-width="0.9"/>
<line x1="434.9" y1="615.5" x2="436.9" y2="615.5" stroke="#2b2b2b" stroke-width="0.9"/>
<line x1="421.6" y1="630.25" x2="421.6" y2="633.25" stroke="#1a1a1a" stroke-width="1.25"/>
<text font-size="8.4" text-anchor="end" transform="translate(424.5 639.95) rotate(-45) scale(0.93 1)" fill="#1e1e1e" stroke="#1e1e1e" stroke-width="0.14">Raji</text>
<polyline points="275.4,589.6 275.4,585.4 281.5,585.4 281.5,589.6" fill="none" stroke="#333" stroke-width="0.9"/>
<path d="M275 580.75L275 583.05M274 581.32L276 582.48M276 581.32L274 582.48M278.4 580.75L278.4 583.05M277.4 581.32L279.4 582.48M279.4 581.32L277.4 582.48M281.8 580.75L281.8 583.05M280.8 581.32L282.8 582.48M282.8 581.32L280.8 582.48" stroke="#222" stroke-width="0.8" fill="none"/>
<polyline points="310,567 310,562.5 316.3,562.5 316.3,567" fill="none" stroke="#333" stroke-width="0.9"/>
<path d="M308 557.65L308 559.95M307 558.22L309 559.38M309 558.22L307 559.38M311.4 557.65L311.4 559.95M310.4 558.22L312.4 559.38M312.4 558.22L310.4 559.38M314.8 557.65L314.8 559.95M313.8 558.22L315.8 559.38M315.8 558.22L313.8 559.38M318.2 557.65L318.2 559.95M317.2 558.22L319.2 559.38M319.2 558.22L317.2 559.38" stroke="#222" stroke-width="0.8" fill="none"/>
<polyline points="345.3,540 345.3,535.6 351.5,535.6 351.5,540" fill="none" stroke="#333" stroke-width="0.9"/>
<path d="M345 530.75L345 533.05M344 531.32L346 532.48M346 531.32L344 532.48M348.4 530.75L348.4 533.05M347.4 531.32L349.4 532.48M349.4 531.32L347.4 532.48M351.8 530.75L351.8 533.05M350.8 531.32L352.8 532.48M352.8 531.32L350.8 532.48" stroke="#222" stroke-width="0.8" fill="none"/>
<polyline points="380.6,596.3 380.6,592.1 387.5,592.1 387.5,596.3" fill="none" stroke="#333" stroke-width="0.9"/>
<path d="M380.6 587.35L380.6 589.65M379.6 587.92L381.6 589.08M381.6 587.92L379.6 589.08M384 587.35L384 589.65M383 587.92L385 589.08M385 587.92L383 589.08M387.4 587.35L387.4 589.65M386.4 587.92L388.4 589.08M388.4 587.92L386.4 589.08" stroke="#222" stroke-width="0.8" fill="none"/>
<polyline points="415.5,559.5 415.5,555.9 421.6,555.9 421.6,559.5" fill="none" stroke="#333" stroke-width="0.9"/>
<path d="M415.2 550.95L415.2 553.25M414.2 551.52L416.2 552.68M416.2 551.52L414.2 552.68M418.6 550.95L418.6 553.25M417.6 551.52L419.6 552.68M419.6 551.52L417.6 552.68M422 550.95L422 553.25M421 551.52L423 552.68M423 551.52L421 552.68" stroke="#222" stroke-width="0.8" fill="none"/>
<polyline points="415.5,546 415.5,541.8 431.4,541.8 431.4,546" fill="none" stroke="#333" stroke-width="0.9"/>
<path d="M418.2 536.65L418.2 538.95M417.2 537.22L419.2 538.38M419.2 537.22L417.2 538.38M421.6 536.65L421.6 538.95M420.6 537.22L422.6 538.38M422.6 537.22L420.6 538.38M425 536.65L425 538.95M424 537.22L426 538.38M426 537.22L424 538.38M428.4 536.65L428.4 538.95M427.4 537.22L429.4 538.38M429.4 537.22L427.4 538.38" stroke="#222" stroke-width="0.8" fill="none"/>
<rect x="444" y="516.4" width="11.1" height="5.4" fill="#5EAA44"/>
<text font-size="7.88" text-anchor="start" transform="translate(457.9 521.4) scale(0.94 1)" fill="#1e1e1e" stroke="#1e1e1e" stroke-width="0.14">mIgG1k</text>
<rect x="444" y="528.7" width="11.1" height="5.4" fill="#C7C6CB"/>
<text font-size="7.88" text-anchor="start" transform="translate(457.9 533.7) scale(0.94 1)" fill="#1e1e1e" stroke="#1e1e1e" stroke-width="0.14">B6H12</text>
<rect x="444" y="541.1" width="11.1" height="5.4" fill="#A8062F"/>
<text font-size="7.88" text-anchor="start" transform="translate(457.9 546.1) scale(0.94 1)" fill="#1e1e1e" stroke="#1e1e1e" stroke-width="0.14">hIgG1</text>
<rect x="444" y="553.5" width="11.1" height="5.4" fill="#66A9E1"/>
<text font-size="7.88" text-anchor="start" transform="translate(457.9 558.5) scale(0.94 1)" fill="#1e1e1e" stroke="#1e1e1e" stroke-width="0.14">B6H12-hIgG1</text>
<rect x="444" y="565.8" width="11.1" height="5.4" fill="#4D1D63"/>
<text font-size="7.88" text-anchor="start" transform="translate(457.9 570.8) scale(0.94 1)" fill="#1e1e1e" stroke="#1e1e1e" stroke-width="0.14">B6H12 F(ab&#8217;)2</text>
<rect x="444" y="578.2" width="11.1" height="5.4" fill="#8B80C1"/>
<text font-size="7.88" text-anchor="start" transform="translate(457.9 583.2) scale(0.94 1)" fill="#1e1e1e" stroke="#1e1e1e" stroke-width="0.14">Rituximab</text>
<rect x="444" y="590.5" width="11.1" height="5.4" fill="#474F66"/>
<text font-size="7.88" text-anchor="start" transform="translate(457.9 595.5) scale(0.94 1)" fill="#1e1e1e" stroke="#1e1e1e" stroke-width="0.14">Trastuzumab</text>
</g>
<rect x="0.5" y="0.5" width="519" height="668" fill="none" stroke="#000" stroke-width="1"/>
</svg>
</body></html>
